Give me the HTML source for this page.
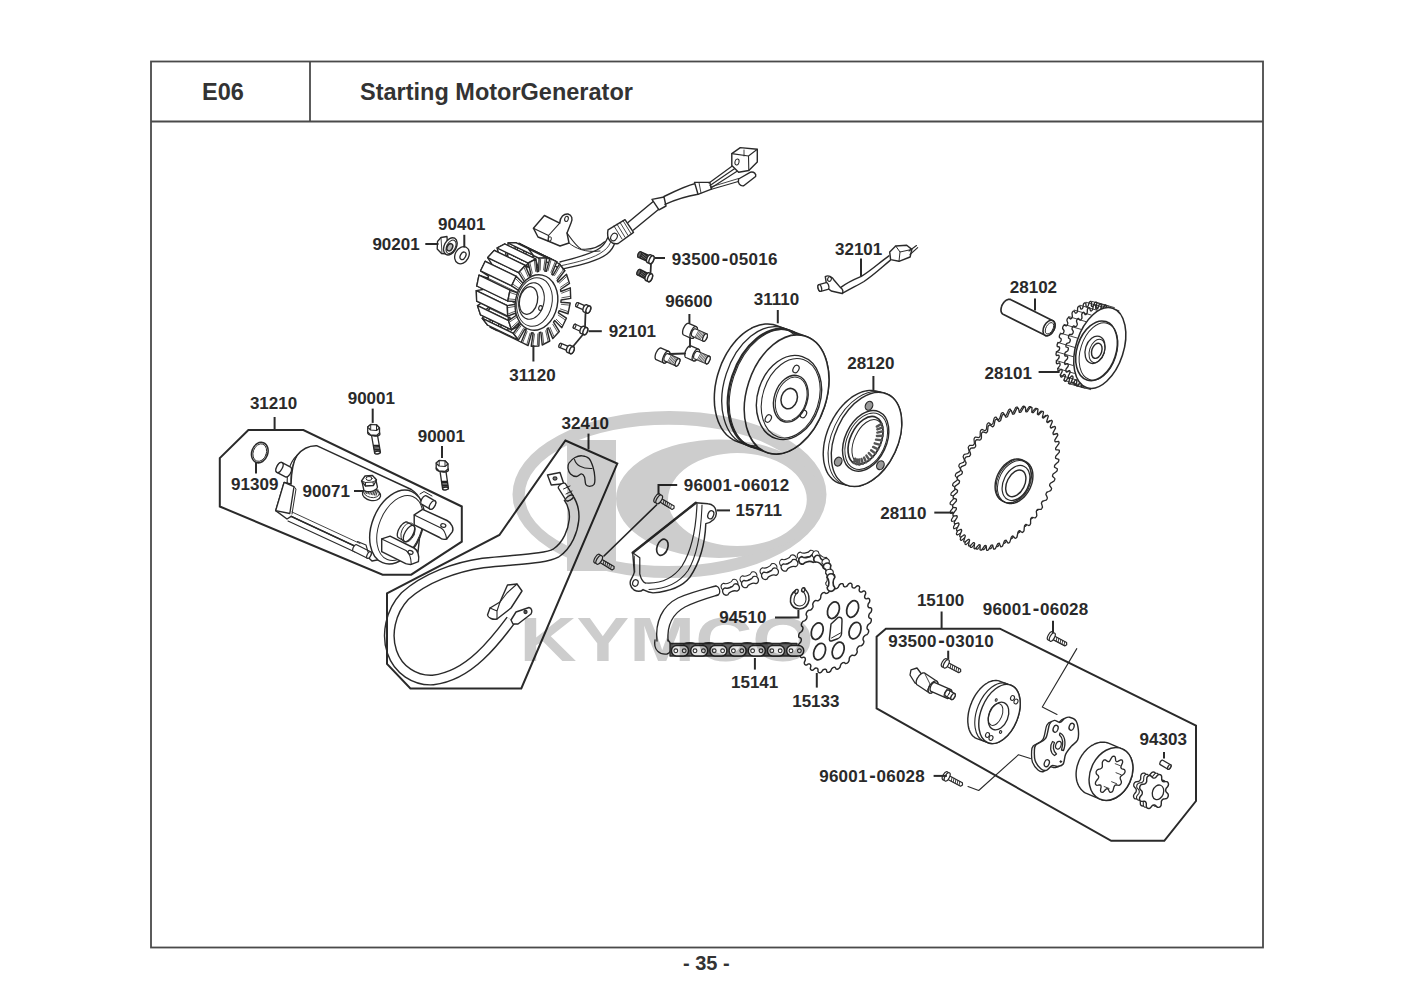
<!DOCTYPE html>
<html><head><meta charset="utf-8">
<style>
html,body{margin:0;padding:0;background:#fff;width:1415px;height:1000px;overflow:hidden}
svg{position:absolute;left:0;top:0}
text{font-family:"Liberation Sans",sans-serif;font-weight:bold}
</style></head><body>
<svg width="1415" height="1000" viewBox="0 0 1415 1000">
<rect x="0" y="0" width="1415" height="1000" fill="#fff"/>
<!-- frame -->
<g fill="none" stroke="#4a4a4a" stroke-width="1.8">
<rect x="151" y="61.5" width="1112" height="886"/>
<line x1="151" y1="121.5" x2="1263" y2="121.5"/>
<line x1="310" y1="61.5" x2="310" y2="121.5"/>
</g>
<text x="202" y="100.3" font-size="23.5" fill="#333">E06</text>
<text x="360" y="100" font-size="23.5" fill="#333">Starting MotorGenerator</text>
<text x="683" y="969.8" font-size="20" fill="#333">- 35 -</text>
<!-- parts -->
<!-- 10_stator.svg -->
<g stroke-linejoin="round" stroke-linecap="round">
<path d="M539.2,288 L537,298.8 L528.1,295.8 L527.4,297.8 L535.4,303.2 L530.8,312.7 L523.7,305.5 L522.5,307.1 L528.3,316.4 L521.8,323.6 L517.3,312.9 L515.9,314 L518.8,326 L511.2,330 L509.9,317.3 L508.3,317.7 L507.9,331 L500.2,331.3 L502.2,317.9 L500.7,317.6 L497.1,330.6 L490.2,327.2 L495.2,314.9 L494,313.9 L487.5,325 L482.3,318.3 L489.8,308.5 L488.9,306.9 L480.5,314.8 L477.5,305.6 L486.5,299.5 L486.2,297.5 L476.7,301.2 L476.3,290.6 L485.9,289 L486.1,286.8 L476.8,286 L479,275.2 L487.9,278.2 L488.6,276.2 L480.6,270.8 L485.2,261.3 L492.3,268.5 L493.5,266.9 L487.7,257.6 L494.2,250.4 L498.7,261.1 L500.1,260 L497.2,248 L504.8,244 L506.1,256.7 L507.7,256.3 L508.1,243 L515.8,242.7 L513.8,256.1 L515.3,256.4 L518.9,243.4 L525.8,246.8 L520.8,259.1 L522,260.1 L528.5,249 L533.7,255.7 L526.2,265.5 L527.1,267.1 L535.5,259.2 L538.5,268.4 L529.5,274.5 L529.8,276.5 L539.3,272.8 L539.7,283.4 L530.1,285 L529.9,287.2 Z" fill="#fff" stroke="#2a2a2a" stroke-width="1.43" />
<path d="M521.2,342.2 L490.2,327.2" fill="none" stroke="#2a2a2a" stroke-width="1.21" />
<path d="M526.2,329.9 L495.2,314.9" fill="none" stroke="#2a2a2a" stroke-width="0.88" />
<path d="M518.5,340 L487.5,325" fill="none" stroke="#2a2a2a" stroke-width="1.21" />
<path d="M513.3,333.3 L482.3,318.3" fill="none" stroke="#2a2a2a" stroke-width="1.21" />
<path d="M520.8,323.5 L489.8,308.5" fill="none" stroke="#2a2a2a" stroke-width="0.88" />
<path d="M511.5,329.8 L480.5,314.8" fill="none" stroke="#2a2a2a" stroke-width="1.21" />
<path d="M508.5,320.6 L477.5,305.6" fill="none" stroke="#2a2a2a" stroke-width="1.21" />
<path d="M517.5,314.5 L486.5,299.5" fill="none" stroke="#2a2a2a" stroke-width="0.88" />
<path d="M507.7,316.2 L476.7,301.2" fill="none" stroke="#2a2a2a" stroke-width="1.21" />
<path d="M507.3,305.6 L476.3,290.6" fill="none" stroke="#2a2a2a" stroke-width="1.21" />
<path d="M516.9,304 L485.9,289" fill="none" stroke="#2a2a2a" stroke-width="0.88" />
<path d="M507.8,301 L476.8,286" fill="none" stroke="#2a2a2a" stroke-width="1.21" />
<path d="M510,290.2 L479,275.2" fill="none" stroke="#2a2a2a" stroke-width="1.21" />
<path d="M518.9,293.2 L487.9,278.2" fill="none" stroke="#2a2a2a" stroke-width="0.88" />
<path d="M511.6,285.8 L480.6,270.8" fill="none" stroke="#2a2a2a" stroke-width="1.21" />
<path d="M516.2,276.3 L485.2,261.3" fill="none" stroke="#2a2a2a" stroke-width="1.21" />
<path d="M523.3,283.5 L492.3,268.5" fill="none" stroke="#2a2a2a" stroke-width="0.88" />
<path d="M518.7,272.6 L487.7,257.6" fill="none" stroke="#2a2a2a" stroke-width="1.21" />
<path d="M525.2,265.4 L494.2,250.4" fill="none" stroke="#2a2a2a" stroke-width="1.21" />
<path d="M529.7,276.1 L498.7,261.1" fill="none" stroke="#2a2a2a" stroke-width="0.88" />
<path d="M528.2,263 L497.2,248" fill="none" stroke="#2a2a2a" stroke-width="1.21" />
<path d="M535.8,259 L504.8,244" fill="none" stroke="#2a2a2a" stroke-width="1.21" />
<path d="M537.1,271.7 L506.1,256.7" fill="none" stroke="#2a2a2a" stroke-width="0.88" />
<path d="M539.1,258 L508.1,243" fill="none" stroke="#2a2a2a" stroke-width="1.21" />
<path d="M546.8,257.7 L515.8,242.7" fill="none" stroke="#2a2a2a" stroke-width="1.21" />
<path d="M544.8,271.1 L513.8,256.1" fill="none" stroke="#2a2a2a" stroke-width="0.88" />
<path d="M549.9,258.4 L518.9,243.4" fill="none" stroke="#2a2a2a" stroke-width="1.21" />
<path d="M556.8,261.8 L525.8,246.8" fill="none" stroke="#2a2a2a" stroke-width="1.21" />
<path d="M551.8,274.1 L520.8,259.1" fill="none" stroke="#2a2a2a" stroke-width="0.88" />
<path d="M559.5,264 L528.5,249" fill="none" stroke="#2a2a2a" stroke-width="1.21" />
<path d="M564.7,270.7 L533.7,255.7" fill="none" stroke="#2a2a2a" stroke-width="1.21" />
<path d="M557.2,280.5 L526.2,265.5" fill="none" stroke="#2a2a2a" stroke-width="0.88" />
<path d="M518.5,340 L513.3,333.3 L482.3,318.3 L487.5,325 Z" fill="#fff" stroke="#2a2a2a" stroke-width="1.32" />
<path d="M511.5,329.8 L508.5,320.6 L477.5,305.6 L480.5,314.8 Z" fill="#fff" stroke="#2a2a2a" stroke-width="1.32" />
<path d="M507.7,316.2 L507.3,305.6 L476.3,290.6 L476.7,301.2 Z" fill="#fff" stroke="#2a2a2a" stroke-width="1.32" />
<path d="M507.8,301 L510,290.2 L479,275.2 L476.8,286 Z" fill="#fff" stroke="#2a2a2a" stroke-width="1.32" />
<path d="M511.6,285.8 L516.2,276.3 L485.2,261.3 L480.6,270.8 Z" fill="#fff" stroke="#2a2a2a" stroke-width="1.32" />
<path d="M518.7,272.6 L525.2,265.4 L494.2,250.4 L487.7,257.6 Z" fill="#fff" stroke="#2a2a2a" stroke-width="1.32" />
<path d="M528.2,263 L535.8,259 L504.8,244 L497.2,248 Z" fill="#fff" stroke="#2a2a2a" stroke-width="1.32" />
<path d="M539.1,258 L546.8,257.7 L515.8,242.7 L508.1,243 Z" fill="#fff" stroke="#2a2a2a" stroke-width="1.32" />
<path d="M549.9,258.4 L556.8,261.8 L525.8,246.8 L518.9,243.4 Z" fill="#fff" stroke="#2a2a2a" stroke-width="1.32" />
<path d="M559.5,264 L564.7,270.7 L533.7,255.7 L528.5,249 Z" fill="#fff" stroke="#2a2a2a" stroke-width="1.32" />
<path d="M570.2,303 L568,313.8 L559.1,310.8 L558.4,312.8 L566.4,318.2 L561.8,327.7 L554.7,320.5 L553.5,322.1 L559.3,331.4 L552.8,338.6 L548.3,327.9 L546.9,329 L549.8,341 L542.2,345 L540.9,332.3 L539.3,332.7 L538.9,346 L531.2,346.3 L533.2,332.9 L531.7,332.6 L528.1,345.6 L521.2,342.2 L526.2,329.9 L525,328.9 L518.5,340 L513.3,333.3 L520.8,323.5 L519.9,321.9 L511.5,329.8 L508.5,320.6 L517.5,314.5 L517.2,312.5 L507.7,316.2 L507.3,305.6 L516.9,304 L517.1,301.8 L507.8,301 L510,290.2 L518.9,293.2 L519.6,291.2 L511.6,285.8 L516.2,276.3 L523.3,283.5 L524.5,281.9 L518.7,272.6 L525.2,265.4 L529.7,276.1 L531.1,275 L528.2,263 L535.8,259 L537.1,271.7 L538.7,271.3 L539.1,258 L546.8,257.7 L544.8,271.1 L546.3,271.4 L549.9,258.4 L556.8,261.8 L551.8,274.1 L553,275.1 L559.5,264 L564.7,270.7 L557.2,280.5 L558.1,282.1 L566.5,274.2 L569.5,283.4 L560.5,289.5 L560.8,291.5 L570.3,287.8 L570.7,298.4 L561.1,300 L560.9,302.2 Z" fill="#fff" stroke="#2a2a2a" stroke-width="1.43" />
<path d="M561.3,304.3 L569,305.1" fill="none" stroke="#2a2a2a" stroke-width="0.77" />
<path d="M560.3,308.9 L567.7,311.4" fill="none" stroke="#2a2a2a" stroke-width="0.77" />
<path d="M558.2,315.1 L564.8,319.6" fill="none" stroke="#2a2a2a" stroke-width="0.77" />
<path d="M556.2,319.2 L562.1,325.2" fill="none" stroke="#2a2a2a" stroke-width="0.77" />
<path d="M552.8,324.3 L557.5,332" fill="none" stroke="#2a2a2a" stroke-width="0.77" />
<path d="M550,327.4 L553.8,336.2" fill="none" stroke="#2a2a2a" stroke-width="0.77" />
<path d="M545.7,330.8 L548,340.8" fill="none" stroke="#2a2a2a" stroke-width="0.77" />
<path d="M542.4,332.6 L543.6,343.2" fill="none" stroke="#2a2a2a" stroke-width="0.77" />
<path d="M537.8,333.9 L537.4,344.9" fill="none" stroke="#2a2a2a" stroke-width="0.77" />
<path d="M534.5,334 L532.9,345.1" fill="none" stroke="#2a2a2a" stroke-width="0.77" />
<path d="M530.1,333.1 L527,343.8" fill="none" stroke="#2a2a2a" stroke-width="0.77" />
<path d="M527.1,331.6 L523,341.9" fill="none" stroke="#2a2a2a" stroke-width="0.77" />
<path d="M523.4,328.5 L518,337.7" fill="none" stroke="#2a2a2a" stroke-width="0.77" />
<path d="M521.2,325.6 L515,333.8" fill="none" stroke="#2a2a2a" stroke-width="0.77" />
<path d="M518.7,320.8 L511.6,327.3" fill="none" stroke="#2a2a2a" stroke-width="0.77" />
<path d="M517.4,316.8 L509.8,321.9" fill="none" stroke="#2a2a2a" stroke-width="0.77" />
<path d="M516.3,310.8 L508.5,313.8" fill="none" stroke="#2a2a2a" stroke-width="0.77" />
<path d="M516.2,306.2 L508.2,307.6" fill="none" stroke="#2a2a2a" stroke-width="0.77" />
<path d="M516.7,299.7 L509,298.9" fill="none" stroke="#2a2a2a" stroke-width="0.77" />
<path d="M517.7,295.1 L510.3,292.6" fill="none" stroke="#2a2a2a" stroke-width="0.77" />
<path d="M519.8,288.9 L513.2,284.4" fill="none" stroke="#2a2a2a" stroke-width="0.77" />
<path d="M521.8,284.8 L515.9,278.8" fill="none" stroke="#2a2a2a" stroke-width="0.77" />
<path d="M525.2,279.7 L520.5,272" fill="none" stroke="#2a2a2a" stroke-width="0.77" />
<path d="M528,276.6 L524.2,267.8" fill="none" stroke="#2a2a2a" stroke-width="0.77" />
<path d="M532.3,273.2 L530,263.2" fill="none" stroke="#2a2a2a" stroke-width="0.77" />
<path d="M535.6,271.4 L534.4,260.8" fill="none" stroke="#2a2a2a" stroke-width="0.77" />
<path d="M540.2,270.1 L540.6,259.1" fill="none" stroke="#2a2a2a" stroke-width="0.77" />
<path d="M543.5,270 L545.1,258.9" fill="none" stroke="#2a2a2a" stroke-width="0.77" />
<path d="M547.9,270.9 L551,260.2" fill="none" stroke="#2a2a2a" stroke-width="0.77" />
<path d="M550.9,272.4 L555,262.1" fill="none" stroke="#2a2a2a" stroke-width="0.77" />
<path d="M554.6,275.5 L560,266.3" fill="none" stroke="#2a2a2a" stroke-width="0.77" />
<path d="M556.8,278.4 L563,270.2" fill="none" stroke="#2a2a2a" stroke-width="0.77" />
<path d="M559.3,283.2 L566.4,276.7" fill="none" stroke="#2a2a2a" stroke-width="0.77" />
<path d="M560.6,287.2 L568.2,282.1" fill="none" stroke="#2a2a2a" stroke-width="0.77" />
<path d="M561.7,293.2 L569.5,290.2" fill="none" stroke="#2a2a2a" stroke-width="0.77" />
<path d="M561.8,297.8 L569.8,296.4" fill="none" stroke="#2a2a2a" stroke-width="0.77" />
<ellipse cx="536.5" cy="302.5" rx="21" ry="28" transform="rotate(12 536.5 302.5)" fill="#fff" stroke="#2a2a2a" stroke-width="1.43" />
<ellipse cx="534.5" cy="302" rx="17.5" ry="24.5" transform="rotate(12 534.5 302)" fill="none" stroke="#2a2a2a" stroke-width="0.99" />
<ellipse cx="531.5" cy="301" rx="12.5" ry="18.5" transform="rotate(12 531.5 301)" fill="none" stroke="#2a2a2a" stroke-width="1.10" />
<ellipse cx="528.5" cy="300.5" rx="9" ry="14" transform="rotate(12 528.5 300.5)" fill="none" stroke="#2a2a2a" stroke-width="1.32" />
<ellipse cx="540.5" cy="308" rx="1.8" ry="2.4" transform="rotate(12 540.5 308)" fill="none" stroke="#2a2a2a" stroke-width="1.10" />
</g>
<!-- 11_harness.svg -->
<g stroke-linejoin="round" stroke-linecap="round">
<path d="M560,262 C575,258 592,254 600,248 C604,245 606,242 608,237" fill="none" stroke="#2a2a2a" stroke-width="1.32" />
<path d="M563,269 C580,265 598,261 607,254 C612,250 614,246 615,242" fill="none" stroke="#2a2a2a" stroke-width="1.32" />
<path d="M562,265.5 C578,262 595,258 603.5,251 C608,248 610,244 611.5,240" fill="none" stroke="#2a2a2a" stroke-width="0.88" />
<path d="M533.4,228.2 L544.4,215.5 L559.7,223.1 C560,217 564,213.5 568,214 C572,215 573,219 571,223 L567,233 L569,243 L560,246 L548,241 L538,237 Z" fill="#fff" stroke="#2a2a2a" stroke-width="1.43" />
<path d="M533.4,228.2 L548.5,235.5 L559.7,223.1" fill="none" stroke="#2a2a2a" stroke-width="1.10" />
<path d="M548.5,235.5 L548,241" fill="none" stroke="#2a2a2a" stroke-width="1.10" />
<ellipse cx="566.5" cy="218.9" rx="1.8" ry="2.6" transform="rotate(15 566.5 218.9)" fill="none" stroke="#2a2a2a" stroke-width="1.10" />
<ellipse cx="549.8" cy="239" rx="1.5" ry="2.2" transform="rotate(15 549.8 239)" fill="none" stroke="#2a2a2a" stroke-width="0.99" />
<path d="M567,233 C572,240 576,246 581,249 C590,250 598,248 604.6,241.8" fill="none" stroke="#2a2a2a" stroke-width="1.21" />
<path d="M569,243 C575,248 585,253 600,251" fill="none" stroke="#2a2a2a" stroke-width="0.99" />
<path d="M608,229.9 L625,219.7 L633.5,232.4 L618.2,243.5 C612,245 606,240 608,229.9 Z" fill="#fff" stroke="#2a2a2a" stroke-width="1.43" />
<path d="M614.0,226.0 L622.0,239.0" fill="none" stroke="#2a2a2a" stroke-width="0.88" />
<path d="M617.0,224.2 L625.0,237.2" fill="none" stroke="#2a2a2a" stroke-width="0.88" />
<path d="M620.0,222.4 L628.0,235.4" fill="none" stroke="#2a2a2a" stroke-width="0.88" />
<path d="M623.0,220.6 L631.0,233.6" fill="none" stroke="#2a2a2a" stroke-width="0.88" />
<ellipse cx="614" cy="237" rx="3" ry="4" transform="rotate(30 614 237)" fill="none" stroke="#2a2a2a" stroke-width="1.10" />
<path d="M628,222.5 L653.8,201" fill="none" stroke="#2a2a2a" stroke-width="1.43" />
<path d="M633.5,230 L660.6,207.8" fill="none" stroke="#2a2a2a" stroke-width="1.43" />
<path d="M652,199.4 L664,197 L666,206 L659,209.8 Z" fill="#fff" stroke="#2a2a2a" stroke-width="1.43" />
<path d="M664,196.5 C675,191 685,186 696.2,183.2" fill="none" stroke="#2a2a2a" stroke-width="1.43" />
<path d="M665,204.4 C677,199 688,196 698,194.3" fill="none" stroke="#2a2a2a" stroke-width="1.43" />
<path d="M694.5,182.4 L709.8,182.4 L711.5,189.2 L698,194.3 Z" fill="#fff" stroke="#2a2a2a" stroke-width="1.43" />
<path d="M699,182.6 L701,193" fill="none" stroke="#2a2a2a" stroke-width="0.88" />
<path d="M709,183 L735,164" fill="none" stroke="#2a2a2a" stroke-width="1.21" />
<path d="M710,185.5 L737,167" fill="none" stroke="#2a2a2a" stroke-width="1.21" />
<path d="M711,188 L739,170" fill="none" stroke="#2a2a2a" stroke-width="1.21" />
<path d="M711.5,189.2 L740,181" fill="none" stroke="#2a2a2a" stroke-width="1.10" />
<path d="M710.5,187 L738.6,178.5" fill="none" stroke="#2a2a2a" stroke-width="0.88" />
<path d="M731.8,153.6 L740.3,147.6 L757.3,149.3 L757.3,162 L748.8,170.5 L738.6,172.2 L731.8,165.4 Z" fill="#fff" stroke="#2a2a2a" stroke-width="1.43" />
<path d="M731.8,153.6 L748.5,156 L757.3,149.3 M748.5,156 L748.8,170.5" fill="none" stroke="#2a2a2a" stroke-width="1.10" />
<path d="M744,150 L744,156" fill="none" stroke="#2a2a2a" stroke-width="0.88" />
<ellipse cx="737" cy="162" rx="2" ry="3" transform="rotate(15 737 162)" fill="none" stroke="#2a2a2a" stroke-width="0.99" />
<path d="M738.6,179 L750.5,172.2 C754,171.5 756.5,174 755.6,176.5 L743.7,185.8 C740,186.5 737.5,183 738.6,179 Z" fill="#fff" stroke="#2a2a2a" stroke-width="1.43" />
</g>
<!-- 20_flywheel.svg -->
<g stroke-linejoin="round" stroke-linecap="round">
<path d="M714.3,398.2 L714.4,394.4 L714.7,390.6 L715.1,386.7 L715.8,382.8 L716.6,378.9 L717.6,375 L718.8,371.2 L720.1,367.4 L721.5,363.7 L723.2,360.1 L724.9,356.6 L726.8,353.1 L728.9,349.9 L731,346.7 L733.3,343.8 L735.6,340.9 L738.1,338.3 L740.6,335.9 L743.2,333.6 L745.9,331.6 L748.6,329.8 L751.3,328.3 L754,326.9 L756.8,325.9 L759.6,325 L762.3,324.4 L765.1,324.1 L767.8,324 L770.4,324.2 L773,324.6 L775.5,325.3 L805.5,336.3 L808,337.2 L810.3,338.4 L812.5,339.8 L814.7,341.5 L816.7,343.3 L818.6,345.4 L820.3,347.7 L821.9,350.2 L823.4,352.9 L824.6,355.8 L825.8,358.9 L826.7,362 L827.5,365.4 L828.1,368.8 L828.6,372.4 L828.8,376.1 L828.9,379.8 L828.8,383.6 L828.5,387.4 L828.1,391.3 L827.4,395.2 L826.6,399.1 L825.6,403 L824.5,406.8 L823.1,410.6 L821.7,414.3 L820,417.9 L818.3,421.4 L816.4,424.9 L814.3,428.1 L812.2,431.3 L809.9,434.2 L807.6,437.1 L805.1,439.7 L802.6,442.1 L800,444.4 L797.3,446.4 L794.6,448.2 L791.9,449.7 L789.1,451.1 L786.4,452.1 L783.6,453 L780.9,453.6 L778.1,453.9 L775.4,454 L772.8,453.8 L770.2,453.4 L767.7,452.7 L737.7,441.7 L735.2,440.8 L732.9,439.6 L730.7,438.2 L728.5,436.5 L726.5,434.7 L724.6,432.6 L722.9,430.3 L721.3,427.8 L719.9,425.1 L718.5,422.2 L717.4,419.1 L716.5,416 L715.7,412.6 L715.1,409.2 L714.6,405.6 L714.4,401.9 Z" fill="#fff" stroke="#2a2a2a" stroke-width="1.54" />
<ellipse cx="764.1" cy="386.2" rx="39.8" ry="61.2" transform="rotate(18 764.1 386.2)" fill="none" stroke="#2a2a2a" stroke-width="1.32" />
<ellipse cx="770.1" cy="388.4" rx="39.8" ry="61.2" transform="rotate(18 770.1 388.4)" fill="none" stroke="#2a2a2a" stroke-width="2.20" />
<ellipse cx="771.6" cy="389" rx="39.8" ry="61.2" transform="rotate(18 771.6 389)" fill="none" stroke="#2a2a2a" stroke-width="1.10" />
<ellipse cx="786.6" cy="394.5" rx="39.8" ry="61.2" transform="rotate(18 786.6 394.5)" fill="#fff" stroke="#2a2a2a" stroke-width="1.54" />
<ellipse cx="789" cy="397.5" rx="31.3" ry="43" transform="rotate(18 789 397.5)" fill="none" stroke="#2a2a2a" stroke-width="1.43" />
<ellipse cx="790.7" cy="398.2" rx="28" ry="40.7" transform="rotate(18 790.7 398.2)" fill="none" stroke="#2a2a2a" stroke-width="1.10" />
<ellipse cx="790.8" cy="398.7" rx="16.5" ry="24" transform="rotate(18 790.8 398.7)" fill="none" stroke="#2a2a2a" stroke-width="1.43" />
<ellipse cx="791.2" cy="399" rx="15" ry="22.5" transform="rotate(18 791.2 399)" fill="none" stroke="#2a2a2a" stroke-width="0.99" />
<ellipse cx="789.2" cy="398.6" rx="8" ry="10.4" transform="rotate(18 789.2 398.6)" fill="none" stroke="#2a2a2a" stroke-width="1.54" />
<ellipse cx="796" cy="369" rx="2.8" ry="4" transform="rotate(28 796 369)" fill="none" stroke="#2a2a2a" stroke-width="1.21" />
<ellipse cx="768.3" cy="418.5" rx="2.8" ry="4" transform="rotate(28 768.3 418.5)" fill="none" stroke="#2a2a2a" stroke-width="1.21" />
<ellipse cx="803.5" cy="414" rx="2.8" ry="4" transform="rotate(28 803.5 414)" fill="none" stroke="#2a2a2a" stroke-width="1.21" />
</g>
<!-- 21_clutch.svg -->
<g stroke-linejoin="round" stroke-linecap="round">
<path d="M823.2,454.4 L823.3,451.5 L823.5,448.6 L823.8,445.5 L824.3,442.5 L825,439.4 L825.7,436.4 L826.7,433.3 L827.7,430.2 L828.9,427.2 L830.2,424.2 L831.7,421.3 L833.2,418.4 L834.9,415.7 L836.6,413 L838.5,410.4 L840.4,407.9 L842.5,405.6 L844.5,403.4 L846.7,401.4 L848.9,399.5 L851.1,397.7 L853.4,396.2 L855.7,394.8 L858,393.6 L860.3,392.6 L862.6,391.7 L864.9,391.1 L867.1,390.7 L869.3,390.4 L871.5,390.4 L873.6,390.6 L875.7,390.9 L883.7,392.9 L885.6,393.5 L887.5,394.3 L889.4,395.2 L891.1,396.4 L892.7,397.7 L894.1,399.2 L895.5,400.9 L896.8,402.8 L897.9,404.8 L898.9,406.9 L899.7,409.2 L900.4,411.6 L901,414.2 L901.4,416.8 L901.6,419.6 L901.8,422.4 L901.7,425.3 L901.5,428.2 L901.2,431.3 L900.7,434.3 L900,437.4 L899.3,440.4 L898.3,443.5 L897.3,446.6 L896.1,449.6 L894.8,452.6 L893.3,455.5 L891.8,458.4 L890.1,461.1 L888.4,463.8 L886.5,466.4 L884.6,468.9 L882.5,471.2 L880.5,473.4 L878.3,475.4 L876.1,477.3 L873.9,479.1 L871.6,480.6 L869.3,482 L867,483.2 L864.7,484.2 L862.4,485.1 L860.1,485.7 L857.9,486.1 L855.7,486.4 L853.5,486.4 L851.4,486.2 L849.3,485.9 L841.3,483.9 L839.4,483.3 L837.5,482.5 L835.6,481.6 L833.9,480.4 L832.3,479.1 L830.9,477.6 L829.5,475.9 L828.2,474.1 L827.1,472.1 L826.1,469.9 L825.3,467.6 L824.6,465.2 L824,462.6 L823.6,460 L823.4,457.2 Z" fill="#fff" stroke="#2a2a2a" stroke-width="1.43" />
<ellipse cx="863.3" cy="438.6" rx="31.2" ry="49.8" transform="rotate(25 863.3 438.6)" fill="none" stroke="#2a2a2a" stroke-width="0.99" />
<ellipse cx="866.5" cy="439.4" rx="31.2" ry="49.8" transform="rotate(25 866.5 439.4)" fill="#fff" stroke="#2a2a2a" stroke-width="1.43" />
<ellipse cx="865.7" cy="440.9" rx="20.7" ry="32" transform="rotate(25 865.7 440.9)" fill="none" stroke="#2a2a2a" stroke-width="1.43" />
<ellipse cx="866.2" cy="441.2" rx="19" ry="29.8" transform="rotate(25 866.2 441.2)" fill="none" stroke="#2a2a2a" stroke-width="0.99" />
<ellipse cx="865.5" cy="440.5" rx="15.2" ry="25.5" transform="rotate(25 865.5 440.5)" fill="none" stroke="#2a2a2a" stroke-width="1.65" />
<ellipse cx="867.5" cy="441.5" rx="13.2" ry="23.5" transform="rotate(25 867.5 441.5)" fill="none" stroke="#2a2a2a" stroke-width="0.99" />
<path d="M881.7,423.7 L876.8,426.6" fill="none" stroke="#555" stroke-width="2.42" />
<path d="M882.7,427.3 L877.3,429.4" fill="none" stroke="#555" stroke-width="2.42" />
<path d="M883,431.3 L877.3,432.6" fill="none" stroke="#555" stroke-width="2.42" />
<path d="M882.7,435.7 L876.9,436" fill="none" stroke="#555" stroke-width="2.42" />
<path d="M881.7,440.3 L876,439.6" fill="none" stroke="#555" stroke-width="2.42" />
<path d="M880.2,444.9 L874.7,443.3" fill="none" stroke="#555" stroke-width="2.42" />
<path d="M878.1,449.3 L873.1,446.9" fill="none" stroke="#555" stroke-width="2.42" />
<path d="M875.5,453.4 L871.1,450.2" fill="none" stroke="#555" stroke-width="2.42" />
<path d="M872.6,457 L868.8,453.1" fill="none" stroke="#555" stroke-width="2.42" />
<path d="M869.4,460 L866.4,455.6" fill="none" stroke="#555" stroke-width="2.42" />
<path d="M866.1,462.3 L864,457.6" fill="none" stroke="#555" stroke-width="2.42" />
<path d="M862.8,463.8 L861.5,458.9" fill="none" stroke="#555" stroke-width="2.42" />
<path d="M859.5,464.5 L859.2,459.5" fill="none" stroke="#555" stroke-width="2.42" />
<path d="M856.5,464.2 L857.1,459.5" fill="none" stroke="#555" stroke-width="2.42" />
<path d="M853.8,463.1 L855.2,458.7" fill="none" stroke="#555" stroke-width="2.42" />
<ellipse cx="869" cy="405.8" rx="3.6" ry="4.6" transform="rotate(25 869 405.8)" fill="#999" stroke="#2a2a2a" stroke-width="1.21" />
<ellipse cx="838.2" cy="461.6" rx="3.6" ry="4.6" transform="rotate(25 838.2 461.6)" fill="#999" stroke="#2a2a2a" stroke-width="1.21" />
<ellipse cx="880.4" cy="465.2" rx="3.6" ry="4.6" transform="rotate(25 880.4 465.2)" fill="#999" stroke="#2a2a2a" stroke-width="1.21" />
</g>
<!-- 22_sprocket28110.svg -->
<g stroke-linejoin="round" stroke-linecap="round">
<path d="M1043.4,500.4 L1042.7,501.5 L1040.8,501.8 L1039.1,502.1 L1038.3,503.1 L1037.8,504.3 L1038.3,506.2 L1038.8,508.2 L1038.2,509.5 L1037.4,510.4 L1035.7,510.5 L1034,510.4 L1033.1,511.3 L1032.6,512.4 L1032.8,514.6 L1033,516.8 L1032.4,518 L1031.5,518.8 L1029.9,518.5 L1028.3,518.1 L1027.4,518.8 L1026.8,519.9 L1026.8,522.2 L1026.7,524.6 L1026,525.7 L1025.1,526.4 L1023.6,525.8 L1022.1,525 L1021.3,525.6 L1020.6,526.6 L1020.3,529.1 L1020,531.5 L1019.2,532.5 L1018.2,533.1 L1016.9,532.1 L1015.7,531.1 L1014.8,531.6 L1014,532.5 L1013.5,534.9 L1012.9,537.5 L1012.1,538.4 L1011.1,538.8 L1010,537.5 L1009,536.2 L1008.1,536.5 L1007.3,537.3 L1006.5,539.8 L1005.7,542.3 L1004.8,543.1 L1003.9,543.3 L1003,541.8 L1002.2,540.1 L1001.3,540.3 L1000.5,541 L999.5,543.4 L998.4,545.9 L997.5,546.6 L996.6,546.6 L996,544.8 L995.4,543 L994.6,542.9 L993.7,543.5 L992.5,545.9 L991.3,548.3 L990.3,548.8 L989.5,548.7 L989.1,546.6 L988.7,544.6 L988,544.4 L987.1,544.8 L985.7,547.1 L984.3,549.3 L983.4,549.7 L982.6,549.4 L982.5,547.2 L982.4,544.9 L981.7,544.6 L980.9,544.8 L979.3,547 L977.7,549.1 L976.8,549.2 L976.2,548.8 L976.3,546.4 L976.4,544 L975.8,543.6 L975,543.6 L973.3,545.6 L971.6,547.5 L970.8,547.5 L970.2,546.9 L970.6,544.4 L971,541.9 L970.5,541.3 L969.7,541.2 L967.9,542.9 L966.1,544.6 L965.3,544.4 L964.9,543.6 L965.5,541.1 L966.1,538.6 L965.7,537.9 L965,537.6 L963.2,539 L961.3,540.4 L960.6,540.1 L960.2,539.2 L961.1,536.7 L962,534.2 L961.7,533.3 L961,532.9 L959.2,534 L957.3,535.1 L956.6,534.6 L956.4,533.6 L957.5,531.1 L958.6,528.7 L958.4,527.7 L957.9,527.2 L956,528 L954.1,528.8 L953.6,528.1 L953.5,527 L954.7,524.6 L956,522.3 L956,521.2 L955.5,520.5 L953.7,521 L951.9,521.4 L951.4,520.6 L951.5,519.5 L952.9,517.2 L954.4,515 L954.4,513.9 L954.1,513.1 L952.3,513.2 L950.6,513.3 L950.3,512.4 L950.4,511.2 L952,509.1 L953.6,507 L953.8,505.9 L953.6,505 L951.9,504.8 L950.3,504.5 L950.1,503.5 L950.4,502.2 L952.1,500.4 L953.8,498.6 L954.1,497.4 L954,496.4 L952.5,495.8 L951,495.2 L950.9,494.1 L951.3,492.9 L953.1,491.2 L954.9,489.7 L955.3,488.5 L955.3,487.4 L954,486.6 L952.6,485.6 L952.7,484.4 L953.2,483.2 L955.1,481.8 L956.9,480.6 L957.4,479.4 L957.6,478.3 L956.4,477.1 L955.3,475.9 L955.5,474.6 L956.1,473.4 L957.9,472.4 L959.8,471.4 L960.4,470.3 L960.7,469.2 L959.7,467.7 L958.8,466.2 L959.1,464.9 L959.8,463.8 L961.7,463 L963.5,462.4 L964.2,461.4 L964.5,460.2 L963.8,458.5 L963.1,456.7 L963.6,455.4 L964.3,454.3 L966.2,454 L967.9,453.7 L968.7,452.7 L969.2,451.5 L968.7,449.6 L968.2,447.6 L968.8,446.3 L969.6,445.4 L971.3,445.3 L973,445.4 L973.9,444.5 L974.4,443.4 L974.2,441.2 L974,439 L974.6,437.8 L975.5,437 L977.1,437.3 L978.7,437.7 L979.6,437 L980.2,435.9 L980.2,433.6 L980.3,431.2 L981,430.1 L981.9,429.4 L983.4,430 L984.9,430.8 L985.7,430.2 L986.4,429.2 L986.7,426.7 L987,424.3 L987.8,423.3 L988.8,422.7 L990.1,423.7 L991.3,424.7 L992.2,424.2 L993,423.3 L993.5,420.9 L994.1,418.3 L994.9,417.4 L995.9,417 L997,418.3 L998,419.6 L998.9,419.3 L999.7,418.5 L1000.5,416 L1001.3,413.5 L1002.2,412.7 L1003.1,412.5 L1004,414 L1004.8,415.7 L1005.7,415.5 L1006.5,414.8 L1007.5,412.4 L1008.6,409.9 L1009.5,409.2 L1010.4,409.2 L1011,411 L1011.6,412.8 L1012.4,412.9 L1013.3,412.3 L1014.5,409.9 L1015.7,407.5 L1016.7,407 L1017.5,407.1 L1017.9,409.2 L1018.3,411.2 L1019,411.4 L1019.9,411 L1021.3,408.7 L1022.7,406.5 L1023.6,406.1 L1024.4,406.4 L1024.5,408.6 L1024.6,410.9 L1025.3,411.2 L1026.1,411 L1027.7,408.8 L1029.3,406.7 L1030.2,406.6 L1030.8,407 L1030.7,409.4 L1030.6,411.8 L1031.2,412.2 L1032,412.2 L1033.7,410.2 L1035.4,408.3 L1036.2,408.3 L1036.8,408.9 L1036.4,411.4 L1036,413.9 L1036.5,414.5 L1037.3,414.6 L1039.1,412.9 L1040.9,411.2 L1041.7,411.4 L1042.1,412.2 L1041.5,414.7 L1040.9,417.2 L1041.3,417.9 L1042,418.2 L1043.8,416.8 L1045.7,415.4 L1046.4,415.7 L1046.8,416.6 L1045.9,419.1 L1045,421.6 L1045.3,422.5 L1046,422.9 L1047.8,421.8 L1049.7,420.7 L1050.4,421.2 L1050.6,422.2 L1049.5,424.7 L1048.4,427.1 L1048.6,428.1 L1049.1,428.6 L1051,427.8 L1052.9,427 L1053.4,427.7 L1053.5,428.8 L1052.3,431.2 L1051,433.5 L1051,434.6 L1051.5,435.3 L1053.3,434.8 L1055.1,434.4 L1055.6,435.2 L1055.5,436.3 L1054.1,438.6 L1052.6,440.8 L1052.6,441.9 L1052.9,442.7 L1054.7,442.6 L1056.4,442.5 L1056.7,443.4 L1056.6,444.6 L1055,446.7 L1053.4,448.8 L1053.2,449.9 L1053.4,450.8 L1055.1,451 L1056.7,451.3 L1056.9,452.3 L1056.6,453.6 L1054.9,455.4 L1053.2,457.2 L1052.9,458.4 L1053,459.4 L1054.5,460 L1056,460.6 L1056.1,461.7 L1055.7,462.9 L1053.9,464.6 L1052.1,466.1 L1051.7,467.3 L1051.7,468.4 L1053,469.2 L1054.4,470.2 L1054.3,471.4 L1053.8,472.6 L1051.9,474 L1050.1,475.2 L1049.6,476.4 L1049.4,477.5 L1050.6,478.7 L1051.7,479.9 L1051.5,481.2 L1050.9,482.4 L1049.1,483.4 L1047.2,484.4 L1046.6,485.5 L1046.3,486.6 L1047.3,488.1 L1048.2,489.6 L1047.9,490.9 L1047.2,492 L1045.3,492.8 L1043.5,493.4 L1042.8,494.4 L1042.5,495.6 L1043.2,497.3 L1043.9,499.1 L1043.4,500.4 Z" fill="#fff" stroke="#2a2a2a" stroke-width="1.21" />
<path d="M1047,499.1 L1046.2,500.2 L1044.4,500.7 L1042.6,501.1 L1041.9,502 L1041.4,503.2 L1042,505.1 L1042.5,507.1 L1041.9,508.3 L1041.1,509.3 L1039.4,509.4 L1037.6,509.5 L1036.8,510.3 L1036.3,511.5 L1036.6,513.6 L1036.8,515.8 L1036.2,516.9 L1035.3,517.8 L1033.7,517.6 L1032.1,517.3 L1031.2,518 L1030.6,519.1 L1030.6,521.4 L1030.6,523.7 L1029.9,524.9 L1029,525.6 L1027.5,525 L1026,524.4 L1025.2,525 L1024.5,526 L1024.2,528.4 L1024,530.9 L1023.2,531.9 L1022.3,532.5 L1020.9,531.6 L1019.6,530.6 L1018.7,531.1 L1018,532.1 L1017.5,534.5 L1017,537 L1016.1,538 L1015.2,538.4 L1014.1,537.2 L1012.9,535.9 L1012.1,536.3 L1011.3,537.1 L1010.6,539.6 L1009.8,542.1 L1008.9,542.9 L1008,543.2 L1007,541.7 L1006.2,540.2 L1005.3,540.3 L1004.4,541 L1003.5,543.5 L1002.5,546 L1001.6,546.7 L1000.7,546.8 L1000,545 L999.4,543.2 L998.5,543.3 L997.7,543.8 L996.5,546.3 L995.3,548.7 L994.4,549.2 L993.6,549.1 L993.1,547.1 L992.7,545.1 L991.9,545 L991,545.4 L989.7,547.7 L988.3,550 L987.4,550.4 L986.6,550.2 L986.4,548 L986.2,545.8 L985.6,545.5 L984.7,545.7 L983.2,547.9 L981.7,550 L980.7,550.2 L980,549.8 L980.1,547.5 L980.2,545.1 L979.6,544.7 L978.7,544.8 L977.1,546.8 L975.4,548.7 L974.6,548.8 L974,548.2 L974.3,545.7 L974.6,543.3 L974.1,542.7 L973.3,542.6 L971.6,544.4 L969.8,546.1 L969,546 L968.5,545.3 L969,542.7 L969.6,540.2 L969.2,539.5 L968.5,539.3 L966.6,540.8 L964.8,542.2 L964.1,541.9 L963.7,541.1 L964.5,538.6 L965.3,536 L965,535.2 L964.3,534.8 L962.5,536 L960.6,537.2 L959.9,536.7 L959.7,535.7 L960.7,533.2 L961.7,530.8 L961.5,529.8 L961,529.3 L959.1,530.2 L957.2,531 L956.7,530.4 L956.5,529.3 L957.8,526.9 L959,524.5 L958.9,523.5 L958.5,522.8 L956.6,523.4 L954.8,523.9 L954.3,523.1 L954.3,522 L955.7,519.7 L957.1,517.5 L957.2,516.4 L956.8,515.6 L955,515.8 L953.3,516 L952.9,515 L953.1,513.8 L954.6,511.7 L956.2,509.6 L956.4,508.5 L956.1,507.6 L954.4,507.5 L952.8,507.3 L952.6,506.3 L952.8,505 L954.5,503.1 L956.2,501.3 L956.5,500.1 L956.3,499.1 L954.8,498.6 L953.2,498.1 L953.2,497 L953.5,495.7 L955.3,494.1 L957.1,492.4 L957.5,491.3 L957.5,490.2 L956.1,489.4 L954.7,488.6 L954.7,487.4 L955.2,486.1 L957.1,484.7 L958.9,483.4 L959.4,482.2 L959.5,481.1 L958.3,480 L957.1,478.8 L957.3,477.6 L957.9,476.4 L959.7,475.3 L961.6,474.2 L962.2,473.1 L962.4,471.9 L961.4,470.6 L960.4,469.1 L960.7,467.8 L961.4,466.7 L963.3,465.9 L965.1,465.2 L965.8,464.1 L966.1,462.9 L965.3,461.3 L964.6,459.5 L965,458.3 L965.8,457.2 L967.6,456.7 L969.4,456.3 L970.1,455.4 L970.6,454.2 L970,452.3 L969.5,450.3 L970.1,449.1 L970.9,448.1 L972.6,448 L974.4,447.9 L975.2,447.1 L975.7,445.9 L975.4,443.8 L975.2,441.6 L975.8,440.5 L976.7,439.6 L978.3,439.8 L979.9,440.1 L980.8,439.4 L981.4,438.3 L981.4,436 L981.4,433.7 L982.1,432.5 L983,431.8 L984.5,432.4 L986,433 L986.8,432.4 L987.5,431.4 L987.8,429 L988,426.5 L988.8,425.5 L989.7,424.9 L991.1,425.8 L992.4,426.8 L993.3,426.3 L994,425.3 L994.5,422.9 L995,420.4 L995.9,419.4 L996.8,419 L997.9,420.2 L999.1,421.5 L999.9,421.1 L1000.7,420.3 L1001.4,417.8 L1002.2,415.3 L1003.1,414.5 L1004,414.2 L1005,415.7 L1005.8,417.2 L1006.7,417.1 L1007.6,416.4 L1008.5,413.9 L1009.5,411.4 L1010.4,410.7 L1011.3,410.6 L1012,412.4 L1012.6,414.2 L1013.5,414.1 L1014.3,413.6 L1015.5,411.1 L1016.7,408.7 L1017.6,408.2 L1018.4,408.3 L1018.9,410.3 L1019.3,412.3 L1020.1,412.4 L1021,412 L1022.3,409.7 L1023.7,407.4 L1024.6,407 L1025.4,407.2 L1025.6,409.4 L1025.8,411.6 L1026.4,411.9 L1027.3,411.7 L1028.8,409.5 L1030.3,407.4 L1031.3,407.2 L1032,407.6 L1031.9,409.9 L1031.8,412.3 L1032.4,412.7 L1033.3,412.6 L1034.9,410.6 L1036.6,408.7 L1037.4,408.6 L1038,409.2 L1037.7,411.7 L1037.4,414.1 L1037.9,414.7 L1038.7,414.8 L1040.4,413 L1042.2,411.3 L1043,411.4 L1043.5,412.1 L1043,414.7 L1042.4,417.2 L1042.8,417.9 L1043.5,418.1 L1045.4,416.6 L1047.2,415.2 L1047.9,415.5 L1048.3,416.3 L1047.5,418.8 L1046.7,421.4 L1047,422.2 L1047.7,422.6 L1049.5,421.4 L1051.4,420.2 L1052.1,420.7 L1052.3,421.7 L1051.3,424.2 L1050.3,426.6 L1050.5,427.6 L1051,428.1 L1052.9,427.2 L1054.8,426.4 L1055.3,427 L1055.5,428.1 L1054.2,430.5 L1053,432.9 L1053.1,433.9 L1053.5,434.6 L1055.4,434 L1057.2,433.5 L1057.7,434.3 L1057.7,435.4 L1056.3,437.7 L1054.9,439.9 L1054.8,441 L1055.2,441.8 L1057,441.6 L1058.7,441.4 L1059.1,442.4 L1058.9,443.6 L1057.4,445.7 L1055.8,447.8 L1055.6,448.9 L1055.9,449.8 L1057.6,449.9 L1059.2,450.1 L1059.4,451.1 L1059.2,452.4 L1057.5,454.3 L1055.8,456.1 L1055.5,457.3 L1055.7,458.3 L1057.2,458.8 L1058.8,459.3 L1058.8,460.4 L1058.5,461.7 L1056.7,463.3 L1054.9,465 L1054.5,466.1 L1054.5,467.2 L1055.9,468 L1057.3,468.8 L1057.3,470 L1056.8,471.3 L1054.9,472.7 L1053.1,474 L1052.6,475.2 L1052.5,476.3 L1053.7,477.4 L1054.9,478.6 L1054.7,479.8 L1054.1,481 L1052.3,482.1 L1050.4,483.2 L1049.8,484.3 L1049.6,485.5 L1050.6,486.8 L1051.6,488.3 L1051.3,489.6 L1050.6,490.7 L1048.7,491.5 L1046.9,492.2 L1046.2,493.3 L1045.9,494.5 L1046.7,496.1 L1047.4,497.9 L1047,499.1 Z" fill="#fff" stroke="#2a2a2a" stroke-width="1.32" />
<path d="M995.1,486 L995.2,484.6 L995.3,483.2 L995.5,481.8 L995.8,480.4 L996.2,479 L996.6,477.6 L997.1,476.2 L997.7,474.8 L998.4,473.4 L999.1,472.1 L999.8,470.9 L1000.6,469.6 L1001.5,468.4 L1002.4,467.3 L1003.3,466.2 L1004.3,465.1 L1005.3,464.2 L1006.4,463.3 L1007.5,462.5 L1008.6,461.8 L1009.7,461.1 L1010.8,460.5 L1012,460 L1013.1,459.6 L1014.2,459.3 L1015.4,459.1 L1016.5,458.9 L1017.6,458.9 L1018.7,459 L1019.7,459.1 L1020.7,459.4 L1021.7,459.7 L1022.7,460.1 L1025.7,461.6 L1026.6,462.1 L1027.4,462.7 L1028.2,463.4 L1029,464.1 L1029.7,464.9 L1030.3,465.9 L1030.9,466.8 L1031.4,467.9 L1031.8,468.9 L1032.2,470.1 L1032.5,471.3 L1032.7,472.6 L1032.8,473.9 L1032.9,475.2 L1032.9,476.5 L1032.8,477.9 L1032.7,479.3 L1032.5,480.7 L1032.2,482.1 L1031.8,483.5 L1031.3,484.9 L1030.8,486.3 L1030.3,487.7 L1029.6,489.1 L1028.9,490.4 L1028.2,491.6 L1027.4,492.9 L1026.5,494.1 L1025.6,495.2 L1024.7,496.3 L1023.7,497.4 L1022.7,498.3 L1021.6,499.2 L1020.5,500 L1019.4,500.8 L1018.3,501.4 L1017.2,502 L1016,502.5 L1014.9,502.9 L1013.8,503.2 L1012.6,503.4 L1011.5,503.6 L1010.4,503.6 L1009.3,503.5 L1008.3,503.4 L1007.3,503.1 L1006.3,502.8 L1005.3,502.4 L1002.3,500.9 L1001.4,500.4 L1000.6,499.8 L999.8,499.1 L999,498.4 L998.3,497.6 L997.7,496.6 L997.1,495.7 L996.6,494.6 L996.2,493.6 L995.8,492.4 L995.5,491.2 L995.3,489.9 L995.2,488.6 L995.1,487.3 Z" fill="#fff" stroke="#2a2a2a" stroke-width="1.43" />
<ellipse cx="1013.5" cy="481.2" rx="15.8" ry="22.8" transform="rotate(26.5 1013.5 481.2)" fill="none" stroke="#2a2a2a" stroke-width="0.99" />
<ellipse cx="1014.5" cy="481.8" rx="15.5" ry="22.4" transform="rotate(26.5 1014.5 481.8)" fill="none" stroke="#2a2a2a" stroke-width="0.99" />
<ellipse cx="1016" cy="483" rx="12.5" ry="18.5" transform="rotate(26.5 1016 483)" fill="#fff" stroke="#2a2a2a" stroke-width="1.21" />
<ellipse cx="1015.8" cy="483.4" rx="8.8" ry="14.2" transform="rotate(26.5 1015.8 483.4)" fill="none" stroke="#2a2a2a" stroke-width="1.43" />
</g>
<!-- 23_gear28101.svg -->
<g stroke-linejoin="round" stroke-linecap="round">
<path d="M1106.1,350.6 L1105.7,351.5 L1105.1,352.2 L1102.9,352.3 L1102.3,352.9 L1101.9,353.6 L1101.6,354.5 L1101.6,355.5 L1103,357.5 L1102.9,358.6 L1102.6,359.5 L1102.1,360.3 L1101.4,360.9 L1099.4,360.1 L1098.8,360.5 L1098.3,361.2 L1098,362 L1097.8,363 L1098.7,365.6 L1098.5,366.7 L1098,367.6 L1097.5,368.2 L1096.8,368.6 L1095.1,367 L1094.5,367.3 L1093.9,367.8 L1093.5,368.5 L1093.2,369.5 L1093.6,372.6 L1093.3,373.7 L1092.7,374.4 L1092.1,374.9 L1091.4,375 L1090.2,372.8 L1089.6,372.8 L1089,373.2 L1088.5,373.7 L1088.1,374.7 L1088,378.1 L1087.5,379.1 L1086.9,379.7 L1086.3,380 L1085.7,379.9 L1084.9,377.1 L1084.3,376.8 L1083.8,377 L1083.3,377.5 L1082.7,378.3 L1082.2,381.9 L1081.5,382.7 L1080.9,383.1 L1080.3,383.2 L1079.8,382.9 L1079.5,379.6 L1079,379.2 L1078.5,379.2 L1078,379.4 L1077.4,380.1 L1076.3,383.7 L1075.6,384.4 L1075,384.6 L1074.5,384.4 L1074,383.8 L1074.3,380.3 L1073.9,379.7 L1073.5,379.5 L1073,379.6 L1072.3,380.1 L1070.8,383.5 L1070.1,383.9 L1069.5,383.9 L1069,383.6 L1068.7,382.8 L1069.5,379.2 L1069.3,378.4 L1068.9,378 L1068.4,377.9 L1067.7,378.2 L1065.9,381.2 L1065.2,381.4 L1064.7,381.2 L1064.3,380.7 L1064.1,379.7 L1065.4,376.2 L1065.3,375.3 L1065,374.8 L1064.6,374.5 L1063.9,374.5 L1061.8,377 L1061.1,377 L1060.7,376.6 L1060.5,375.9 L1060.5,374.8 L1062.1,371.6 L1062.2,370.6 L1062,369.9 L1061.7,369.5 L1061.1,369.3 L1058.8,371.1 L1058.2,370.8 L1057.9,370.3 L1057.8,369.4 L1057.9,368.4 L1059.9,365.5 L1060.1,364.5 L1060,363.7 L1059.8,363.1 L1059.3,362.8 L1057,363.8 L1056.5,363.3 L1056.3,362.6 L1056.3,361.7 L1056.6,360.6 L1058.8,358.3 L1059.1,357.3 L1059.2,356.5 L1059.1,355.8 L1058.7,355.2 L1056.5,355.5 L1056.1,354.8 L1056,353.9 L1056.2,353 L1056.6,351.9 L1058.9,350.4 L1059.4,349.4 L1059.6,348.6 L1059.6,347.8 L1059.3,347 L1057.3,346.5 L1057.1,345.6 L1057.1,344.7 L1057.4,343.8 L1058,342.9 L1060.3,342 L1060.8,341.2 L1061.1,340.4 L1061.2,339.6 L1061.1,338.7 L1059.4,337.4 L1059.3,336.4 L1059.5,335.4 L1059.9,334.5 L1060.5,333.8 L1062.7,333.7 L1063.3,333.1 L1063.7,332.4 L1064,331.5 L1064,330.5 L1062.6,328.5 L1062.7,327.4 L1063,326.5 L1063.5,325.7 L1064.2,325.1 L1066.2,325.9 L1066.8,325.5 L1067.3,324.8 L1067.6,324 L1067.8,323 L1066.9,320.4 L1067.1,319.3 L1067.6,318.4 L1068.1,317.8 L1068.8,317.4 L1070.5,319 L1071.1,318.7 L1071.7,318.2 L1072.1,317.5 L1072.4,316.5 L1072,313.4 L1072.3,312.3 L1072.9,311.6 L1073.5,311.1 L1074.2,311 L1075.4,313.2 L1076,313.2 L1076.6,312.8 L1077.1,312.3 L1077.5,311.3 L1077.6,307.9 L1078.1,306.9 L1078.7,306.3 L1079.3,306 L1079.9,306.1 L1080.7,308.9 L1081.3,309.2 L1081.8,309 L1082.3,308.5 L1082.9,307.7 L1083.4,304.1 L1084.1,303.3 L1084.7,302.9 L1085.3,302.8 L1085.8,303.1 L1086.1,306.4 L1086.6,306.8 L1087.1,306.8 L1087.6,306.6 L1088.2,305.9 L1089.3,302.3 L1090,301.6 L1090.6,301.4 L1091.1,301.6 L1091.6,302.2 L1091.3,305.7 L1091.7,306.3 L1092.1,306.5 L1092.6,306.4 L1093.3,305.9 L1094.8,302.5 L1095.5,302.1 L1096.1,302.1 L1096.6,302.4 L1096.9,303.2 L1096.1,306.8 L1096.3,307.6 L1096.7,308 L1097.2,308.1 L1097.9,307.8 L1099.7,304.8 L1100.4,304.6 L1100.9,304.8 L1101.3,305.3 L1101.5,306.3 L1100.2,309.8 L1100.3,310.7 L1100.6,311.2 L1101,311.5 L1101.7,311.5 L1103.8,309 L1104.5,309 L1104.9,309.4 L1105.1,310.1 L1105.1,311.2 L1103.5,314.4 L1103.4,315.4 L1103.6,316.1 L1103.9,316.5 L1104.5,316.7 L1106.8,314.9 L1107.4,315.2 L1107.7,315.7 L1107.8,316.6 L1107.7,317.6 L1105.7,320.5 L1105.5,321.5 L1105.6,322.3 L1105.8,322.9 L1106.3,323.2 L1108.6,322.2 L1109.1,322.7 L1109.3,323.4 L1109.3,324.3 L1109,325.4 L1106.8,327.7 L1106.5,328.7 L1106.4,329.5 L1106.5,330.2 L1106.9,330.8 L1109.1,330.5 L1109.5,331.2 L1109.6,332.1 L1109.4,333 L1109,334.1 L1106.7,335.6 L1106.2,336.6 L1106,337.4 L1106,338.2 L1106.3,339 L1108.3,339.5 L1108.5,340.4 L1108.5,341.3 L1108.2,342.2 L1107.6,343.1 L1105.3,344 L1104.8,344.8 L1104.5,345.6 L1104.4,346.4 L1104.5,347.3 L1106.2,348.6 L1106.3,349.6 L1106.1,350.6 Z" fill="#fff" stroke="#2a2a2a" stroke-width="1.32" />
<path d="M1113.9,355.1 L1113.5,356 L1112.8,356.7 L1110.7,356.5 L1110.1,357.2 L1109.6,357.9 L1109.4,358.7 L1109.3,359.7 L1110.6,361.9 L1110.5,363 L1110.1,363.9 L1109.6,364.6 L1108.9,365.2 L1107,364.2 L1106.4,364.6 L1105.9,365.2 L1105.5,366 L1105.3,367 L1106.1,369.8 L1105.9,370.9 L1105.4,371.7 L1104.8,372.3 L1104.1,372.6 L1102.6,370.9 L1101.9,371.1 L1101.4,371.6 L1100.9,372.3 L1100.6,373.3 L1100.9,376.5 L1100.5,377.5 L1100,378.2 L1099.4,378.7 L1098.7,378.8 L1097.5,376.4 L1096.9,376.3 L1096.4,376.7 L1095.9,377.2 L1095.4,378.1 L1095.2,381.6 L1094.7,382.6 L1094.1,383.1 L1093.5,383.4 L1092.9,383.2 L1092.2,380.3 L1091.7,380 L1091.1,380.1 L1090.6,380.6 L1090,381.4 L1089.3,385 L1088.7,385.8 L1088.1,386.1 L1087.5,386.2 L1087,385.8 L1086.8,382.4 L1086.4,382 L1085.9,381.9 L1085.3,382.1 L1084.7,382.8 L1083.5,386.3 L1082.9,386.9 L1082.3,387.1 L1081.7,386.9 L1081.3,386.3 L1081.7,382.7 L1081.3,382.1 L1080.9,381.8 L1080.4,381.9 L1079.7,382.3 L1078.1,385.6 L1077.4,386 L1076.9,386 L1076.4,385.6 L1076.1,384.8 L1077,381.2 L1076.8,380.4 L1076.4,379.9 L1076,379.8 L1075.3,380 L1073.4,382.9 L1072.7,383.1 L1072.2,382.8 L1071.9,382.3 L1071.7,381.3 L1073,377.8 L1073,376.9 L1072.7,376.3 L1072.3,376 L1071.7,376 L1069.5,378.3 L1068.9,378.2 L1068.5,377.8 L1068.3,377.1 L1068.3,376 L1070,372.8 L1070.1,371.8 L1070,371.2 L1069.6,370.7 L1069.1,370.5 L1066.8,372.1 L1066.2,371.8 L1065.9,371.1 L1065.8,370.3 L1066,369.2 L1068,366.5 L1068.3,365.5 L1068.2,364.7 L1068,364.1 L1067.6,363.6 L1065.2,364.5 L1064.8,364 L1064.6,363.2 L1064.7,362.3 L1065,361.2 L1067.2,359.1 L1067.6,358.1 L1067.7,357.3 L1067.6,356.6 L1067.3,355.9 L1065,356 L1064.7,355.3 L1064.7,354.4 L1064.8,353.5 L1065.3,352.4 L1067.6,351 L1068.1,350.1 L1068.3,349.3 L1068.4,348.5 L1068.1,347.7 L1066.1,347 L1065.9,346.1 L1066,345.1 L1066.3,344.2 L1066.9,343.3 L1069.2,342.7 L1069.8,341.9 L1070.1,341.1 L1070.3,340.3 L1070.2,339.3 L1068.5,337.9 L1068.5,336.8 L1068.7,335.9 L1069.1,335 L1069.8,334.3 L1071.9,334.5 L1072.5,333.8 L1073,333.1 L1073.2,332.3 L1073.3,331.3 L1072,329.1 L1072.1,328 L1072.5,327.1 L1073,326.4 L1073.7,325.8 L1075.6,326.8 L1076.2,326.4 L1076.7,325.8 L1077.1,325 L1077.3,324 L1076.5,321.2 L1076.7,320.1 L1077.2,319.3 L1077.8,318.7 L1078.5,318.4 L1080,320.1 L1080.7,319.9 L1081.2,319.4 L1081.7,318.7 L1082,317.7 L1081.7,314.5 L1082.1,313.5 L1082.6,312.8 L1083.2,312.3 L1083.9,312.2 L1085.1,314.6 L1085.7,314.7 L1086.2,314.3 L1086.7,313.8 L1087.2,312.9 L1087.4,309.4 L1087.9,308.4 L1088.5,307.9 L1089.1,307.6 L1089.7,307.8 L1090.4,310.7 L1090.9,311 L1091.5,310.9 L1092,310.4 L1092.6,309.6 L1093.3,306 L1093.9,305.2 L1094.5,304.9 L1095.1,304.8 L1095.6,305.2 L1095.8,308.6 L1096.2,309 L1096.7,309.1 L1097.3,308.9 L1097.9,308.2 L1099.1,304.7 L1099.7,304.1 L1100.3,303.9 L1100.9,304.1 L1101.3,304.7 L1100.9,308.3 L1101.3,308.9 L1101.7,309.2 L1102.2,309.1 L1102.9,308.7 L1104.5,305.4 L1105.2,305 L1105.7,305 L1106.2,305.4 L1106.5,306.2 L1105.6,309.8 L1105.8,310.6 L1106.2,311.1 L1106.6,311.2 L1107.3,311 L1109.2,308.1 L1109.9,307.9 L1110.4,308.2 L1110.7,308.7 L1110.9,309.7 L1109.6,313.2 L1109.6,314.1 L1109.9,314.7 L1110.3,315 L1110.9,315 L1113.1,312.7 L1113.7,312.8 L1114.1,313.2 L1114.3,313.9 L1114.3,315 L1112.6,318.2 L1112.5,319.2 L1112.6,319.8 L1113,320.3 L1113.5,320.5 L1115.8,318.9 L1116.4,319.2 L1116.7,319.9 L1116.8,320.7 L1116.6,321.8 L1114.6,324.5 L1114.3,325.5 L1114.4,326.3 L1114.6,326.9 L1115,327.4 L1117.4,326.5 L1117.8,327 L1118,327.8 L1117.9,328.7 L1117.6,329.8 L1115.4,331.9 L1115,332.9 L1114.9,333.7 L1115,334.4 L1115.3,335.1 L1117.6,335 L1117.9,335.7 L1117.9,336.6 L1117.8,337.5 L1117.3,338.6 L1115,340 L1114.5,340.9 L1114.3,341.7 L1114.2,342.5 L1114.5,343.3 L1116.5,344 L1116.7,344.9 L1116.6,345.9 L1116.3,346.8 L1115.7,347.7 L1113.4,348.3 L1112.8,349.1 L1112.5,349.9 L1112.3,350.7 L1112.4,351.7 L1114.1,353.1 L1114.1,354.2 L1113.9,355.1 Z" fill="#fff" stroke="#2a2a2a" stroke-width="1.32" />
<path d="M1073.6,384.6 L1090.6,389.6" fill="none" stroke="#2a2a2a" stroke-width="0.88" />
<path d="M1068.2,383.4 L1085.2,388.4" fill="none" stroke="#2a2a2a" stroke-width="0.88" />
<path d="M1063.6,380.2 L1080.6,385.2" fill="none" stroke="#2a2a2a" stroke-width="0.88" />
<path d="M1059.9,375.1 L1076.9,380.1" fill="none" stroke="#2a2a2a" stroke-width="0.88" />
<path d="M1057.4,368.4 L1074.4,373.4" fill="none" stroke="#2a2a2a" stroke-width="0.88" />
<path d="M1056.1,360.5 L1073.1,365.5" fill="none" stroke="#2a2a2a" stroke-width="0.88" />
<path d="M1056.2,351.7 L1073.2,356.7" fill="none" stroke="#2a2a2a" stroke-width="0.88" />
<path d="M1057.6,342.4 L1074.6,347.4" fill="none" stroke="#2a2a2a" stroke-width="0.88" />
<path d="M1060.3,333.1 L1077.3,338.1" fill="none" stroke="#2a2a2a" stroke-width="0.88" />
<path d="M1064.1,324.4 L1081.1,329.4" fill="none" stroke="#2a2a2a" stroke-width="0.88" />
<path d="M1068.8,316.6 L1085.8,321.6" fill="none" stroke="#2a2a2a" stroke-width="0.88" />
<path d="M1074.3,310.1 L1091.3,315.1" fill="none" stroke="#2a2a2a" stroke-width="0.88" />
<path d="M1080.2,305.3 L1097.2,310.3" fill="none" stroke="#2a2a2a" stroke-width="0.88" />
<path d="M1086.2,302.3 L1103.2,307.3" fill="none" stroke="#2a2a2a" stroke-width="0.88" />
<path d="M1092,301.4 L1109,306.4" fill="none" stroke="#2a2a2a" stroke-width="0.88" />
<path d="M1097.4,302.6 L1114.4,307.6" fill="none" stroke="#2a2a2a" stroke-width="0.88" />
<path d="M1102,305.8 L1119,310.8" fill="none" stroke="#2a2a2a" stroke-width="0.88" />
<ellipse cx="1099.8" cy="348" rx="23.8" ry="41.7" transform="rotate(18 1099.8 348)" fill="#fff" stroke="#2a2a2a" stroke-width="1.54" />
<ellipse cx="1096.5" cy="350.8" rx="19.5" ry="30.7" transform="rotate(18 1096.5 350.8)" fill="none" stroke="#2a2a2a" stroke-width="1.54" />
<ellipse cx="1098.5" cy="351.5" rx="18" ry="29.5" transform="rotate(18 1098.5 351.5)" fill="none" stroke="#2a2a2a" stroke-width="0.99" />
<ellipse cx="1095" cy="349.8" rx="9.6" ry="14" transform="rotate(18 1095 349.8)" fill="none" stroke="#2a2a2a" stroke-width="1.32" />
<ellipse cx="1097" cy="351" rx="7.5" ry="12" transform="rotate(18 1097 351)" fill="none" stroke="#2a2a2a" stroke-width="0.99" />
<ellipse cx="1096.8" cy="350.8" rx="5" ry="7.8" transform="rotate(18 1096.8 350.8)" fill="none" stroke="#2a2a2a" stroke-width="1.43" />
<path d="M1001,310 L1001,309.5 L1001,309 L1001.1,308.6 L1001.2,308.1 L1001.3,307.6 L1001.4,307 L1001.6,306.5 L1001.7,306 L1001.9,305.5 L1002.2,305 L1002.4,304.6 L1002.7,304.1 L1003,303.6 L1003.3,303.2 L1003.6,302.8 L1003.9,302.3 L1004.2,301.9 L1004.6,301.6 L1005,301.2 L1005.4,300.9 L1005.7,300.6 L1006.1,300.3 L1006.5,300.1 L1006.9,299.9 L1007.3,299.7 L1007.7,299.6 L1008.1,299.4 L1008.5,299.4 L1008.8,299.3 L1009.2,299.3 L1009.6,299.3 L1009.9,299.3 L1010.3,299.4 L1010.6,299.5 L1010.9,299.7 L1052.9,320.7 L1053.2,320.9 L1053.5,321.1 L1053.7,321.3 L1054,321.6 L1054.2,321.9 L1054.4,322.2 L1054.5,322.5 L1054.7,322.9 L1054.8,323.3 L1054.9,323.7 L1055,324.1 L1055,324.5 L1055,325 L1055,325.5 L1055,326 L1054.9,326.4 L1054.8,326.9 L1054.7,327.4 L1054.6,328 L1054.4,328.5 L1054.3,329 L1054.1,329.5 L1053.8,330 L1053.6,330.4 L1053.3,330.9 L1053,331.4 L1052.7,331.8 L1052.4,332.2 L1052.1,332.7 L1051.8,333.1 L1051.4,333.4 L1051,333.8 L1050.7,334.1 L1050.3,334.4 L1049.9,334.7 L1049.5,334.9 L1049.1,335.1 L1048.7,335.3 L1048.3,335.4 L1047.9,335.6 L1047.5,335.6 L1047.2,335.7 L1046.8,335.7 L1046.4,335.7 L1046.1,335.7 L1045.7,335.6 L1045.4,335.5 L1045.1,335.3 L1003.1,314.3 L1002.8,314.1 L1002.5,313.9 L1002.3,313.7 L1002,313.4 L1001.8,313.1 L1001.6,312.8 L1001.5,312.5 L1001.3,312.1 L1001.2,311.7 L1001.1,311.3 L1001,310.9 L1001,310.5 Z" fill="#fff" stroke="#2a2a2a" stroke-width="1.65" />
<ellipse cx="1049" cy="328" rx="5.2" ry="8.3" transform="rotate(28 1049 328)" fill="#fff" stroke="#2a2a2a" stroke-width="1.65" />
<ellipse cx="1049.5" cy="328.3" rx="3.5" ry="6.2" transform="rotate(28 1049.5 328.3)" fill="none" stroke="#2a2a2a" stroke-width="0.88" />
</g>
<!-- 24_sprocket15133.svg -->
<g stroke-linejoin="round" stroke-linecap="round">
<path d="M863.2,643.9 L862.5,644.9 L861.4,645.7 L859.5,645.9 L858.5,646.6 L857.8,647.5 L857.2,648.5 L856.9,649.8 L857.3,651.8 L856.8,653.2 L856.1,654.3 L855.2,655.1 L854.2,655.6 L852.5,655.1 L851.4,655.5 L850.6,656.2 L849.8,657.1 L849.3,658.3 L849.1,660.6 L848.4,661.9 L847.6,662.8 L846.6,663.4 L845.6,663.6 L844.2,662.5 L843.2,662.6 L842.3,663 L841.4,663.7 L840.7,664.8 L840,667.2 L839.1,668.3 L838.2,669 L837.2,669.3 L836.2,669.1 L835.3,667.5 L834.4,667.3 L833.5,667.4 L832.6,667.9 L831.7,668.8 L830.6,671.1 L829.6,672 L828.6,672.4 L827.7,672.4 L826.8,671.9 L826.4,669.9 L825.6,669.3 L824.8,669.1 L824,669.4 L822.9,670 L821.4,672.1 L820.3,672.7 L819.4,672.8 L818.6,672.4 L818,671.6 L818,669.3 L817.5,668.5 L816.9,668.1 L816,668 L815,668.3 L813.2,670 L812.1,670.3 L811.3,670.1 L810.7,669.5 L810.3,668.4 L810.9,666 L810.6,664.9 L810.1,664.3 L809.4,663.9 L808.4,663.9 L806.5,665.1 L805.5,665 L804.8,664.5 L804.4,663.7 L804.3,662.4 L805.3,660.1 L805.4,658.9 L805.1,658 L804.5,657.4 L803.7,657.1 L801.7,657.7 L800.8,657.3 L800.4,656.5 L800.2,655.5 L800.4,654.1 L801.8,652 L802.1,650.7 L802.1,649.7 L801.7,648.9 L801,648.2 L799.2,648.2 L798.5,647.5 L798.3,646.5 L798.4,645.4 L798.9,644 L800.6,642.2 L801.1,641 L801.3,639.9 L801.2,638.9 L800.7,638 L799.1,637.4 L798.7,636.4 L798.7,635.3 L799,634.1 L799.8,632.8 L801.7,631.5 L802.4,630.4 L802.8,629.3 L803,628.2 L802.8,627.1 L801.5,625.9 L801.3,624.7 L801.6,623.5 L802.2,622.4 L803.1,621.3 L805,620.6 L806,619.6 L806.6,618.6 L806.9,617.5 L807,616.3 L806.1,614.6 L806.3,613.3 L806.8,612.1 L807.5,611.1 L808.6,610.3 L810.5,610.1 L811.5,609.4 L812.2,608.5 L812.8,607.5 L813.1,606.2 L812.7,604.2 L813.2,602.8 L813.9,601.7 L814.8,600.9 L815.8,600.4 L817.5,600.9 L818.6,600.5 L819.4,599.8 L820.2,598.9 L820.7,597.7 L820.9,595.4 L821.6,594.1 L822.4,593.2 L823.4,592.6 L824.4,592.4 L825.8,593.5 L826.8,593.4 L827.7,593 L828.6,592.3 L829.3,591.2 L830,588.8 L830.9,587.7 L831.8,587 L832.8,586.7 L833.8,586.9 L834.7,588.5 L835.6,588.7 L836.5,588.6 L837.4,588.1 L838.3,587.2 L839.4,584.9 L840.4,584 L841.4,583.6 L842.3,583.6 L843.2,584.1 L843.6,586.1 L844.4,586.7 L845.2,586.9 L846,586.6 L847.1,586 L848.6,583.9 L849.7,583.3 L850.6,583.2 L851.4,583.6 L852,584.4 L852,586.7 L852.5,587.5 L853.1,587.9 L854,588 L855,587.7 L856.8,586 L857.9,585.7 L858.7,585.9 L859.3,586.5 L859.7,587.6 L859.1,590 L859.4,591.1 L859.9,591.7 L860.6,592.1 L861.6,592.1 L863.5,590.9 L864.5,591 L865.2,591.5 L865.6,592.3 L865.7,593.6 L864.7,595.9 L864.6,597.1 L864.9,598 L865.5,598.6 L866.3,598.9 L868.3,598.3 L869.2,598.7 L869.6,599.5 L869.8,600.5 L869.6,601.9 L868.2,604 L867.9,605.3 L867.9,606.3 L868.3,607.1 L869,607.8 L870.8,607.8 L871.5,608.5 L871.7,609.5 L871.6,610.6 L871.1,612 L869.4,613.8 L868.9,615 L868.7,616.1 L868.8,617.1 L869.3,618 L870.9,618.6 L871.3,619.6 L871.3,620.7 L871,621.9 L870.2,623.2 L868.3,624.5 L867.6,625.6 L867.2,626.7 L867,627.8 L867.2,628.9 L868.5,630.1 L868.7,631.3 L868.4,632.5 L867.8,633.6 L866.9,634.7 L865,635.4 L864,636.4 L863.4,637.4 L863.1,638.5 L863,639.7 L863.9,641.4 L863.7,642.7 L863.2,643.9 Z" fill="#fff" stroke="#2a2a2a" stroke-width="1.43" />
<ellipse cx="833.4" cy="610.2" rx="5.6" ry="8.6" transform="rotate(20 833.4 610.2)" fill="none" stroke="#2a2a2a" stroke-width="1.76" />
<ellipse cx="852.6" cy="609" rx="5.6" ry="8.6" transform="rotate(20 852.6 609)" fill="none" stroke="#2a2a2a" stroke-width="1.76" />
<ellipse cx="817.2" cy="631.2" rx="5.6" ry="8.6" transform="rotate(20 817.2 631.2)" fill="none" stroke="#2a2a2a" stroke-width="1.76" />
<ellipse cx="855" cy="630.6" rx="5.6" ry="8.6" transform="rotate(20 855 630.6)" fill="none" stroke="#2a2a2a" stroke-width="1.76" />
<ellipse cx="819.6" cy="651.6" rx="5.6" ry="8.6" transform="rotate(20 819.6 651.6)" fill="none" stroke="#2a2a2a" stroke-width="1.76" />
<ellipse cx="838.2" cy="650.4" rx="5.6" ry="8.6" transform="rotate(20 838.2 650.4)" fill="none" stroke="#2a2a2a" stroke-width="1.76" />
<path d="M831,624 L838,617.5 Q842.5,616.5 842,621 L841.5,634 Q841,637.5 837,639 L831.5,641 Q829,641.5 829.5,638 Z" fill="none" stroke="#2a2a2a" stroke-width="1.43" />
<path d="M831.5,638 L840.5,633" fill="none" stroke="#2a2a2a" stroke-width="0.99" />
<path d="M795.5,590.5 Q790,594 790.5,602 Q792,608.5 799.5,609 Q807.5,608.5 809,600 Q809.5,592.5 804,588.5" fill="none" stroke="#2a2a2a" stroke-width="1.54" />
<path d="M797.5,592.5 Q793.5,596 794,602 Q795.5,606 800,606 Q805.5,605.5 806,599.5 Q806,594 802.5,591" fill="none" stroke="#2a2a2a" stroke-width="1.10" />
<ellipse cx="796.5" cy="591.5" rx="1.6" ry="2.2" transform="rotate(20 796.5 591.5)" fill="none" stroke="#2a2a2a" stroke-width="1.32" />
<ellipse cx="803.3" cy="589.8" rx="1.6" ry="2.2" transform="rotate(20 803.3 589.8)" fill="none" stroke="#2a2a2a" stroke-width="1.32" />
</g>
<!-- 25_chain.svg -->
<g stroke-linejoin="round" stroke-linecap="round">
<path d="M657,641 C655,622 662,606 678,598 C692,592 705,589 716,586" fill="none" stroke="#2a2a2a" stroke-width="1.32" />
<path d="M668,641 C667,626 672,614 685,607 C697,601 708,598 718,595" fill="none" stroke="#2a2a2a" stroke-width="1.32" />
<path d="M716,586 C720,587 721,593 718,595" fill="none" stroke="#2a2a2a" stroke-width="1.21" />
<path d="M655,640 C653,650 660,655 667,654 C673,652 672,644 668,640" fill="none" stroke="#2a2a2a" stroke-width="1.32" />
<path d="M723.5,583.3 Q725.9,584.3 728.7,583.1 Q731.7,582.1 732.8,579.6 A3.8,3.8 0 0 1 735.5,586.7 Q733.1,585.7 730.3,586.9 Q727.3,587.9 726.2,590.4 A3.8,3.8 0 0 1 723.5,583.3 Z" fill="#fff" stroke="#2a2a2a" stroke-width="1.10" />
<path d="M725.0,587.8 Q727.4,588.8 730.2,587.6 Q733.2,586.6 734.3,584.1 A3.8,3.8 0 0 1 737.0,591.2 Q734.6,590.2 731.8,591.4 Q728.8,592.4 727.7,594.9 A3.8,3.8 0 0 1 725.0,587.8 Z" fill="#fff" stroke="#2a2a2a" stroke-width="1.32" />
<path d="M742.4,575.8 Q744.9,576.9 747.7,575.6 Q750.7,574.6 751.7,572.1 A3.8,3.8 0 0 1 754.6,579.2 Q752.1,578.1 749.3,579.4 Q746.3,580.4 745.3,582.9 A3.8,3.8 0 0 1 742.4,575.8 Z" fill="#fff" stroke="#2a2a2a" stroke-width="1.10" />
<path d="M743.9,580.3 Q746.4,581.4 749.2,580.1 Q752.2,579.1 753.2,576.6 A3.8,3.8 0 0 1 756.1,583.7 Q753.6,582.6 750.8,583.9 Q747.8,584.9 746.8,587.4 A3.8,3.8 0 0 1 743.9,580.3 Z" fill="#fff" stroke="#2a2a2a" stroke-width="1.32" />
<path d="M762.4,567.7 Q764.9,568.7 767.7,567.3 Q770.6,566.3 771.6,563.8 A3.8,3.8 0 0 1 774.6,570.8 Q772.1,569.8 769.3,571.2 Q766.4,572.2 765.4,574.7 A3.8,3.8 0 0 1 762.4,567.7 Z" fill="#fff" stroke="#2a2a2a" stroke-width="1.10" />
<path d="M763.9,572.2 Q766.4,573.2 769.2,571.8 Q772.1,570.8 773.1,568.3 A3.8,3.8 0 0 1 776.1,575.3 Q773.6,574.3 770.8,575.7 Q767.9,576.7 766.9,579.2 A3.8,3.8 0 0 1 763.9,572.2 Z" fill="#fff" stroke="#2a2a2a" stroke-width="1.32" />
<path d="M781.9,559.3 Q784.4,560.3 787.1,558.8 Q790.0,557.8 791.0,555.2 A3.8,3.8 0 0 1 794.1,562.2 Q791.6,561.2 788.9,562.7 Q786.0,563.7 785.0,566.3 A3.8,3.8 0 0 1 781.9,559.3 Z" fill="#fff" stroke="#2a2a2a" stroke-width="1.10" />
<path d="M783.4,563.8 Q785.9,564.8 788.6,563.3 Q791.5,562.3 792.5,559.7 A3.8,3.8 0 0 1 795.6,566.7 Q793.1,565.7 790.4,567.2 Q787.5,568.2 786.5,570.8 A3.8,3.8 0 0 1 783.4,563.8 Z" fill="#fff" stroke="#2a2a2a" stroke-width="1.32" />
<path d="M800.4,552.1 Q802.6,553.7 805.6,552.9 Q808.7,552.6 810.3,550.4 A3.8,3.8 0 0 1 811.6,557.9 Q809.4,556.3 806.4,557.1 Q803.3,557.4 801.7,559.6 A3.8,3.8 0 0 1 800.4,552.1 Z" fill="#fff" stroke="#2a2a2a" stroke-width="1.10" />
<path d="M801.9,556.6 Q804.1,558.2 807.1,557.4 Q810.2,557.1 811.8,554.9 A3.8,3.8 0 0 1 813.1,562.4 Q810.9,560.8 807.9,561.6 Q804.8,561.9 803.2,564.1 A3.8,3.8 0 0 1 801.9,556.6 Z" fill="#fff" stroke="#2a2a2a" stroke-width="1.65" />
<path d="M818.2,551.5 Q818.6,554.2 821.2,555.8 Q823.6,557.8 826.3,557.4 A3.8,3.8 0 0 1 821.8,563.5 Q821.4,560.8 818.8,559.2 Q816.4,557.2 813.7,557.6 A3.8,3.8 0 0 1 818.2,551.5 Z" fill="#fff" stroke="#2a2a2a" stroke-width="1.10" />
<path d="M819.7,556.0 Q820.1,558.7 822.7,560.3 Q825.1,562.3 827.8,561.9 A3.8,3.8 0 0 1 823.3,568.0 Q822.9,565.3 820.3,563.7 Q817.9,561.7 815.2,562.1 A3.8,3.8 0 0 1 819.7,556.0 Z" fill="#fff" stroke="#2a2a2a" stroke-width="1.65" />
<path d="M829.4,561.0 Q828.2,563.5 829.5,566.3 Q830.3,569.2 832.8,570.4 A3.8,3.8 0 0 1 825.6,573.0 Q826.8,570.5 825.5,567.7 Q824.7,564.8 822.2,563.6 A3.8,3.8 0 0 1 829.4,561.0 Z" fill="#fff" stroke="#2a2a2a" stroke-width="1.10" />
<path d="M830.9,565.5 Q829.7,568.0 831.0,570.8 Q831.8,573.7 834.3,574.9 A3.8,3.8 0 0 1 827.1,577.5 Q828.3,575.0 827.0,572.2 Q826.2,569.3 823.7,568.1 A3.8,3.8 0 0 1 830.9,565.5 Z" fill="#fff" stroke="#2a2a2a" stroke-width="1.65" />
<path d="M833.3,573.0 Q831.4,574.9 831.6,578.0 Q831.4,581.1 833.3,583.0 A3.8,3.8 0 0 1 825.7,583.0 Q827.6,581.1 827.4,578.0 Q827.6,574.9 825.7,573.0 A3.8,3.8 0 0 1 833.3,573.0 Z" fill="#fff" stroke="#2a2a2a" stroke-width="1.10" />
<path d="M834.8,577.5 Q832.9,579.4 833.1,582.5 Q832.9,585.6 834.8,587.5 A3.8,3.8 0 0 1 827.2,587.5 Q829.1,585.6 828.9,582.5 Q829.1,579.4 827.2,577.5 A3.8,3.8 0 0 1 834.8,577.5 Z" fill="#fff" stroke="#2a2a2a" stroke-width="1.65" />
<path d="M670,643.5 L797,643.5 L797,656 L670,656 Z" fill="#666" stroke="#2a2a2a" stroke-width="1.32" />
<rect x="671.5" y="645.5" width="17" height="10.5" rx="5" ry="5" fill="#e8e8e8" stroke="#222" stroke-width="1.54"/>
<ellipse cx="675.8" cy="650.8" rx="1.9" ry="1.9" transform="rotate(0 675.8 650.8)" fill="#fff" stroke="#2a2a2a" stroke-width="1.10" />
<ellipse cx="684.2" cy="650.8" rx="1.9" ry="1.9" transform="rotate(0 684.2 650.8)" fill="#fff" stroke="#2a2a2a" stroke-width="1.10" />
<rect x="690.7" y="645.5" width="17" height="10.5" rx="5" ry="5" fill="#e8e8e8" stroke="#222" stroke-width="1.54"/>
<ellipse cx="695" cy="650.8" rx="1.9" ry="1.9" transform="rotate(0 695 650.8)" fill="#fff" stroke="#2a2a2a" stroke-width="1.10" />
<ellipse cx="703.4" cy="650.8" rx="1.9" ry="1.9" transform="rotate(0 703.4 650.8)" fill="#fff" stroke="#2a2a2a" stroke-width="1.10" />
<rect x="709.9" y="645.5" width="17" height="10.5" rx="5" ry="5" fill="#e8e8e8" stroke="#222" stroke-width="1.54"/>
<ellipse cx="714.2" cy="650.8" rx="1.9" ry="1.9" transform="rotate(0 714.2 650.8)" fill="#fff" stroke="#2a2a2a" stroke-width="1.10" />
<ellipse cx="722.6" cy="650.8" rx="1.9" ry="1.9" transform="rotate(0 722.6 650.8)" fill="#fff" stroke="#2a2a2a" stroke-width="1.10" />
<rect x="729.1" y="645.5" width="17" height="10.5" rx="5" ry="5" fill="#e8e8e8" stroke="#222" stroke-width="1.54"/>
<ellipse cx="733.4" cy="650.8" rx="1.9" ry="1.9" transform="rotate(0 733.4 650.8)" fill="#fff" stroke="#2a2a2a" stroke-width="1.10" />
<ellipse cx="741.8" cy="650.8" rx="1.9" ry="1.9" transform="rotate(0 741.8 650.8)" fill="#fff" stroke="#2a2a2a" stroke-width="1.10" />
<rect x="748.3" y="645.5" width="17" height="10.5" rx="5" ry="5" fill="#e8e8e8" stroke="#222" stroke-width="1.54"/>
<ellipse cx="752.6" cy="650.8" rx="1.9" ry="1.9" transform="rotate(0 752.6 650.8)" fill="#fff" stroke="#2a2a2a" stroke-width="1.10" />
<ellipse cx="761" cy="650.8" rx="1.9" ry="1.9" transform="rotate(0 761 650.8)" fill="#fff" stroke="#2a2a2a" stroke-width="1.10" />
<rect x="767.5" y="645.5" width="17" height="10.5" rx="5" ry="5" fill="#e8e8e8" stroke="#222" stroke-width="1.54"/>
<ellipse cx="771.8" cy="650.8" rx="1.9" ry="1.9" transform="rotate(0 771.8 650.8)" fill="#fff" stroke="#2a2a2a" stroke-width="1.10" />
<ellipse cx="780.2" cy="650.8" rx="1.9" ry="1.9" transform="rotate(0 780.2 650.8)" fill="#fff" stroke="#2a2a2a" stroke-width="1.10" />
<rect x="786.7" y="645.5" width="17" height="10.5" rx="5" ry="5" fill="#e8e8e8" stroke="#222" stroke-width="1.54"/>
<ellipse cx="791" cy="650.8" rx="1.9" ry="1.9" transform="rotate(0 791 650.8)" fill="#fff" stroke="#2a2a2a" stroke-width="1.10" />
<ellipse cx="799.4" cy="650.8" rx="1.9" ry="1.9" transform="rotate(0 799.4 650.8)" fill="#fff" stroke="#2a2a2a" stroke-width="1.10" />
<path d="M683.6,644 Q689.6,641.5 695.6,644" fill="none" stroke="#2a2a2a" stroke-width="1.43" />
<path d="M702.8,644 Q708.8,641.5 714.8,644" fill="none" stroke="#2a2a2a" stroke-width="1.43" />
<path d="M722.0,644 Q728.0,641.5 734.0,644" fill="none" stroke="#2a2a2a" stroke-width="1.43" />
<path d="M741.2,644 Q747.2,641.5 753.2,644" fill="none" stroke="#2a2a2a" stroke-width="1.43" />
<path d="M760.4,644 Q766.4,641.5 772.4,644" fill="none" stroke="#2a2a2a" stroke-width="1.43" />
<path d="M779.6,644 Q785.6,641.5 791.6,644" fill="none" stroke="#2a2a2a" stroke-width="1.43" />
</g>
<!-- 26_bracket.svg -->
<g stroke-linejoin="round" stroke-linecap="round">
<path d="M632.7,552.8 L695.9,502.7 L708,503.8 C712,504 716.5,507 716.3,513.7 C716,518 712,522 705.8,523.6 C705,545 700,562 690,577 C683,586 670,591.5 653,592.9 C648,592.5 645,590.5 643.1,589.6 C641,591.5 637,591.5 634,590 C630,587.5 629.5,582 631,579.7 C632,577 634,575 634.3,572 Z" fill="#fff" stroke="#2a2a2a" stroke-width="1.43" />
<path d="M632.7,552.8 L695.9,502.7" fill="none" stroke="#2a2a2a" stroke-width="2.42" />
<path d="M697,504 C696,530 692,550 682,566 C672,580 660,584 645.3,583" fill="none" stroke="#2a2a2a" stroke-width="1.21" />
<path d="M702,505 C701,535 697,556 688,570.5 C678,585 664,589 649,589.5" fill="none" stroke="#2a2a2a" stroke-width="1.10" />
<path d="M632.7,552.8 L639.8,557.7 L639.8,574 C641,579 643,582 645.3,583" fill="none" stroke="#2a2a2a" stroke-width="1.21" />
<path d="M634.3,556 L634.8,572" fill="none" stroke="#2a2a2a" stroke-width="0.88" />
<ellipse cx="710.8" cy="514.8" rx="2.8" ry="4.2" transform="rotate(20 710.8 514.8)" fill="none" stroke="#2a2a2a" stroke-width="1.32" />
<ellipse cx="635.4" cy="583" rx="2.7" ry="3.3" transform="rotate(20 635.4 583)" fill="none" stroke="#2a2a2a" stroke-width="1.21" />
<ellipse cx="662.4" cy="547.3" rx="5.3" ry="8.4" transform="rotate(20 662.4 547.3)" fill="none" stroke="#2a2a2a" stroke-width="1.65" />
<path d="M656.5,505 L604,556" fill="none" stroke="#2a2a2a" stroke-width="1.65" />
<path d="M659.5,497.4 L674.1,506.1 L674,508.3 L672.1,509.4 L657.5,500.6 Z" fill="#fff" stroke="#2a2a2a" stroke-width="1.21" />
<path d="M664,500.1 L663.1,504" fill="none" stroke="#2a2a2a" stroke-width="0.88" />
<path d="M665.9,501.2 L664.9,505.1" fill="none" stroke="#2a2a2a" stroke-width="0.88" />
<path d="M667.8,502.3 L666.8,506.2" fill="none" stroke="#2a2a2a" stroke-width="0.88" />
<path d="M669.6,503.5 L668.7,507.3" fill="none" stroke="#2a2a2a" stroke-width="0.88" />
<path d="M671.5,504.6 L670.6,508.5" fill="none" stroke="#2a2a2a" stroke-width="0.88" />
<ellipse cx="657.2" cy="498.2" rx="2.4" ry="4.9" transform="rotate(31 657.2 498.2)" fill="#fff" stroke="#2a2a2a" stroke-width="1.21" />
<ellipse cx="659.2" cy="499.4" rx="2.4" ry="4.9" transform="rotate(31 659.2 499.4)" fill="#fff" stroke="#2a2a2a" stroke-width="1.21" />
<path d="M599.5,557.9 L614.1,566.6 L614,568.8 L612.1,569.9 L597.5,561.1 Z" fill="#fff" stroke="#2a2a2a" stroke-width="1.21" />
<path d="M604,560.6 L603.1,564.5" fill="none" stroke="#2a2a2a" stroke-width="0.88" />
<path d="M605.9,561.7 L604.9,565.6" fill="none" stroke="#2a2a2a" stroke-width="0.88" />
<path d="M607.8,562.8 L606.8,566.7" fill="none" stroke="#2a2a2a" stroke-width="0.88" />
<path d="M609.6,564 L608.7,567.8" fill="none" stroke="#2a2a2a" stroke-width="0.88" />
<path d="M611.5,565.1 L610.6,569" fill="none" stroke="#2a2a2a" stroke-width="0.88" />
<ellipse cx="597.2" cy="558.7" rx="2.4" ry="4.9" transform="rotate(31 597.2 558.7)" fill="#fff" stroke="#2a2a2a" stroke-width="1.21" />
<ellipse cx="599.2" cy="559.9" rx="2.4" ry="4.9" transform="rotate(31 599.2 559.9)" fill="#fff" stroke="#2a2a2a" stroke-width="1.21" />
</g>
<!-- 30_fasteners.svg -->
<g stroke-linejoin="round" stroke-linecap="round">
<path d="M437.5,241.5 L441,237.5 L447,236.5 L448,254 L441.5,253.5 L437.2,249 Z" fill="#fff" stroke="#2a2a2a" stroke-width="1.32" />
<path d="M441,237.5 L442,253.5" fill="none" stroke="#2a2a2a" stroke-width="0.88" />
<ellipse cx="450.3" cy="246.3" rx="6" ry="9.2" transform="rotate(28 450.3 246.3)" fill="#fff" stroke="#2a2a2a" stroke-width="1.43" />
<ellipse cx="451" cy="246.8" rx="4.3" ry="7.2" transform="rotate(28 451 246.8)" fill="none" stroke="#2a2a2a" stroke-width="0.99" />
<ellipse cx="449.8" cy="247.3" rx="2.6" ry="3.8" transform="rotate(28 449.8 247.3)" fill="#bbb" stroke="#2a2a2a" stroke-width="1.54" />
<ellipse cx="462" cy="255.2" rx="6.8" ry="9" transform="rotate(28 462 255.2)" fill="#fff" stroke="#2a2a2a" stroke-width="1.32" />
<ellipse cx="463" cy="255.8" rx="2.6" ry="4" transform="rotate(28 463 255.8)" fill="none" stroke="#2a2a2a" stroke-width="1.32" />
<path d="M637.8,255.8 L637.8,255.4 L637.9,255.1 L638,254.7 L638.1,254.4 L638.2,254 L638.4,253.7 L638.6,253.3 L638.8,253 L639,252.7 L639.2,252.4 L639.5,252.2 L639.7,252.1 L640,251.9 L640.2,251.8 L640.4,251.8 L640.6,251.8 L640.8,251.8 L652.7,257.1 L652.9,257.1 L653,257.3 L653.1,257.5 L653.2,257.7 L653.3,258 L653.3,258.3 L653.3,258.6 L653.3,258.9 L653.2,259.3 L653.1,259.7 L653,260 L652.9,260.4 L652.7,260.8 L652.5,261.1 L652.3,261.4 L652.1,261.7 L651.9,261.9 L651.6,262.2 L651.4,262.4 L651.1,262.5 L650.9,262.6 L650.7,262.6 L650.5,262.6 L650.3,262.6 L638.4,257.4 L638.2,257.2 L638.1,257.1 L638,256.9 L637.9,256.7 L637.8,256.4 L637.8,256.1 Z" fill="#fff" stroke="#2a2a2a" stroke-width="1.43" />
<path d="M649.4,255.9 L646.5,260.5" fill="none" stroke="#222" stroke-width="1.21" />
<path d="M648.2,255.4 L645.3,260" fill="none" stroke="#222" stroke-width="1.21" />
<path d="M647,254.9 L644.1,259.5" fill="none" stroke="#222" stroke-width="1.21" />
<path d="M645.8,254.4 L642.9,259" fill="none" stroke="#222" stroke-width="1.21" />
<path d="M644.6,253.8 L641.7,258.5" fill="none" stroke="#222" stroke-width="1.21" />
<path d="M643.4,253.3 L640.5,258" fill="none" stroke="#222" stroke-width="1.21" />
<path d="M642.2,252.8 L639.3,257.4" fill="none" stroke="#222" stroke-width="1.21" />
<ellipse cx="639.6" cy="254.6" rx="1.5" ry="3" transform="rotate(24 639.6 254.6)" fill="#666" stroke="#2a2a2a" stroke-width="1.21" />
<path d="M646.4,260.8 L646.5,260.4 L646.5,259.9 L646.6,259.4 L646.7,258.9 L646.9,258.4 L647.1,257.9 L647.3,257.4 L647.6,256.9 L647.9,256.4 L648.2,256.1 L648.5,255.7 L648.8,255.4 L649.2,255.1 L649.5,254.9 L649.8,254.8 L650.1,254.8 L650.4,254.8 L650.7,254.9 L653.2,256 L653.4,256.1 L653.6,256.3 L653.8,256.6 L653.9,256.9 L654,257.3 L654.1,257.7 L654,258.1 L654,258.6 L653.9,259.1 L653.8,259.6 L653.6,260.1 L653.4,260.6 L653.2,261.1 L652.9,261.6 L652.6,262.1 L652.3,262.4 L652,262.8 L651.7,263.1 L651.3,263.4 L651,263.6 L650.7,263.7 L650.4,263.7 L650.1,263.7 L649.8,263.6 L647.3,262.5 L647.1,262.4 L646.9,262.2 L646.7,261.9 L646.6,261.6 L646.5,261.2 Z" fill="#fff" stroke="#2a2a2a" stroke-width="1.43" />
<ellipse cx="651.5" cy="259.8" rx="2.1" ry="4.2" transform="rotate(23.7 651.5 259.8)" fill="#fff" stroke="#2a2a2a" stroke-width="1.43" />
<path d="M636.9,273.6 L636.9,273.3 L637,273 L637,272.6 L637.2,272.2 L637.3,271.9 L637.5,271.5 L637.6,271.2 L637.9,270.9 L638.1,270.6 L638.3,270.3 L638.5,270 L638.8,269.8 L639,269.7 L639.3,269.5 L639.5,269.5 L639.8,269.4 L640,269.4 L640.1,269.5 L651.3,275.1 L651.5,275.2 L651.6,275.4 L651.8,275.6 L651.8,275.8 L651.9,276.1 L651.9,276.4 L651.9,276.7 L651.8,277 L651.8,277.4 L651.6,277.8 L651.5,278.1 L651.3,278.5 L651.2,278.8 L651,279.1 L650.7,279.4 L650.5,279.7 L650.2,280 L650,280.2 L649.8,280.3 L649.5,280.5 L649.3,280.5 L649,280.6 L648.8,280.6 L648.7,280.5 L637.5,274.9 L637.3,274.8 L637.2,274.6 L637,274.4 L637,274.2 L636.9,273.9 Z" fill="#fff" stroke="#2a2a2a" stroke-width="1.43" />
<path d="M648.1,273.9 L644.9,278.3" fill="none" stroke="#222" stroke-width="1.21" />
<path d="M646.9,273.3 L643.7,277.8" fill="none" stroke="#222" stroke-width="1.21" />
<path d="M645.8,272.7 L642.6,277.2" fill="none" stroke="#222" stroke-width="1.21" />
<path d="M644.6,272.1 L641.4,276.6" fill="none" stroke="#222" stroke-width="1.21" />
<path d="M643.4,271.5 L640.3,276" fill="none" stroke="#222" stroke-width="1.21" />
<path d="M642.3,270.9 L639.1,275.4" fill="none" stroke="#222" stroke-width="1.21" />
<ellipse cx="638.8" cy="272.2" rx="1.5" ry="3" transform="rotate(24 638.8 272.2)" fill="#666" stroke="#2a2a2a" stroke-width="1.21" />
<path d="M644.9,278.8 L645,278.4 L645,277.9 L645.1,277.4 L645.2,276.9 L645.4,276.4 L645.6,275.9 L645.8,275.4 L646.1,274.9 L646.4,274.4 L646.7,274.1 L647,273.7 L647.3,273.4 L647.7,273.1 L648,272.9 L648.3,272.8 L648.6,272.8 L648.9,272.8 L649.2,272.9 L651.7,274 L651.9,274.1 L652.1,274.3 L652.3,274.6 L652.4,274.9 L652.5,275.3 L652.6,275.7 L652.5,276.1 L652.5,276.6 L652.4,277.1 L652.3,277.6 L652.1,278.1 L651.9,278.6 L651.7,279.1 L651.4,279.6 L651.1,280.1 L650.8,280.4 L650.5,280.8 L650.2,281.1 L649.8,281.4 L649.5,281.6 L649.2,281.7 L648.9,281.7 L648.6,281.7 L648.3,281.6 L645.8,280.5 L645.6,280.4 L645.4,280.2 L645.2,279.9 L645.1,279.6 L645,279.2 Z" fill="#fff" stroke="#2a2a2a" stroke-width="1.43" />
<ellipse cx="650" cy="277.8" rx="2.1" ry="4.2" transform="rotate(23.7 650 277.8)" fill="#fff" stroke="#2a2a2a" stroke-width="1.43" />
<path d="M651,264 L650.5,273.5" fill="none" stroke="#2a2a2a" stroke-width="1.76" />
<path d="M575.7,305.5 L575.7,305.2 L575.7,305 L575.8,304.7 L575.9,304.4 L576,304.1 L576.1,303.9 L576.3,303.6 L576.4,303.4 L576.6,303.2 L576.8,303 L576.9,302.9 L577.1,302.7 L577.3,302.6 L577.4,302.6 L577.6,302.5 L577.8,302.6 L577.9,302.6 L588.7,307.4 L588.8,307.5 L588.9,307.6 L589,307.7 L589.1,307.9 L589.1,308.1 L589.1,308.3 L589.1,308.5 L589.1,308.8 L589.1,309 L589,309.3 L588.9,309.6 L588.8,309.9 L588.7,310.1 L588.5,310.4 L588.4,310.6 L588.2,310.8 L588,311 L587.9,311.1 L587.7,311.3 L587.5,311.4 L587.4,311.4 L587.2,311.5 L587,311.4 L586.9,311.4 L576.1,306.6 L576,306.5 L575.9,306.4 L575.8,306.3 L575.7,306.1 L575.7,305.9 L575.7,305.7 Z" fill="#fff" stroke="#2a2a2a" stroke-width="1.21" />
<ellipse cx="577" cy="304.6" rx="1.1" ry="2.2" transform="rotate(-156 577 304.6)" fill="#fff" stroke="#2a2a2a" stroke-width="1.21" />
<path d="M582.9,309.8 L582.9,309.3 L583,308.9 L583.1,308.4 L583.2,307.9 L583.4,307.5 L583.6,307 L583.8,306.6 L584.1,306.2 L584.4,305.8 L584.7,305.5 L585,305.2 L585.3,305 L585.6,304.9 L586,304.8 L586.3,304.7 L586.5,304.7 L586.8,304.8 L589.8,306.1 L590,306.2 L590.3,306.4 L590.4,306.7 L590.6,307 L590.7,307.3 L590.7,307.7 L590.7,308.1 L590.7,308.6 L590.6,309 L590.5,309.5 L590.4,310 L590.2,310.4 L590,310.9 L589.8,311.3 L589.5,311.7 L589.2,312.1 L588.9,312.4 L588.6,312.6 L588.3,312.9 L588,313 L587.6,313.1 L587.3,313.2 L587,313.2 L586.8,313.1 L583.8,311.8 L583.5,311.6 L583.3,311.4 L583.2,311.2 L583,310.9 L582.9,310.6 L582.9,310.2 Z" fill="#fff" stroke="#2a2a2a" stroke-width="1.43" />
<ellipse cx="588.3" cy="309.6" rx="2.1" ry="3.8" transform="rotate(23.4 588.3 309.6)" fill="#fff" stroke="#2a2a2a" stroke-width="1.43" />
<path d="M573.2,327.3 L573.2,327 L573.3,326.8 L573.3,326.5 L573.4,326.3 L573.5,326 L573.6,325.7 L573.9,325.2 L574,325 L574.2,324.8 L574.4,324.6 L574.6,324.5 L574.7,324.3 L574.9,324.2 L575.1,324.2 L575.2,324.2 L575.4,324.2 L575.5,324.2 L585.7,329 L585.9,329.1 L586,329.2 L586,329.3 L586.1,329.5 L586.1,329.7 L586.2,329.9 L586.2,330.2 L586.1,330.4 L586.1,330.7 L586,330.9 L585.9,331.2 L585.8,331.5 L585.5,332 L585.4,332.2 L585.2,332.4 L585,332.6 L584.8,332.7 L584.7,332.9 L584.5,333 L584.3,333 L584.1,333 L584,333 L583.9,333 L573.7,328.2 L573.5,328.1 L573.4,328 L573.4,327.9 L573.3,327.7 L573.2,327.5 Z" fill="#fff" stroke="#2a2a2a" stroke-width="1.21" />
<ellipse cx="574.6" cy="326.2" rx="1.1" ry="2.2" transform="rotate(-154.8 574.6 326.2)" fill="#fff" stroke="#2a2a2a" stroke-width="1.21" />
<path d="M579.9,331.4 L579.9,330.9 L580,330.5 L580.1,330 L580.2,329.5 L580.4,329.1 L580.6,328.6 L580.8,328.2 L581.1,327.8 L581.4,327.4 L581.7,327.1 L582,326.9 L582.3,326.6 L582.6,326.5 L583,326.4 L583.3,326.3 L583.5,326.3 L583.8,326.4 L586.8,327.7 L587,327.9 L587.3,328.1 L587.4,328.3 L587.6,328.6 L587.7,328.9 L587.7,329.3 L587.7,329.7 L587.7,330.2 L587.6,330.6 L587.5,331.1 L587.4,331.6 L587.2,332 L587,332.5 L586.8,332.9 L586.5,333.3 L586.2,333.7 L585.9,334 L585.6,334.2 L585.3,334.5 L585,334.6 L584.6,334.7 L584.3,334.8 L584,334.8 L583.8,334.7 L580.8,333.4 L580.5,333.2 L580.3,333.1 L580.2,332.8 L580,332.5 L579.9,332.2 L579.9,331.8 Z" fill="#fff" stroke="#2a2a2a" stroke-width="1.43" />
<ellipse cx="585.3" cy="331.2" rx="2.1" ry="3.8" transform="rotate(23.4 585.3 331.2)" fill="#fff" stroke="#2a2a2a" stroke-width="1.43" />
<path d="M558.9,346.3 L558.9,346.1 L558.9,345.8 L559,345.5 L559.1,345.3 L559.2,345 L559.3,344.7 L559.4,344.5 L559.6,344.2 L559.7,344 L559.9,343.8 L560.1,343.7 L560.2,343.5 L560.4,343.4 L560.6,343.4 L560.7,343.3 L560.9,343.3 L561,343.4 L572.1,347.9 L572.2,347.9 L572.4,348 L572.5,348.2 L572.5,348.3 L572.6,348.5 L572.6,348.8 L572.6,349 L572.6,349.2 L572.6,349.5 L572.5,349.8 L572.4,350 L572.3,350.3 L572.2,350.6 L572.1,350.8 L571.9,351.1 L571.8,351.3 L571.6,351.5 L571.4,351.6 L571.3,351.8 L571.1,351.9 L570.9,351.9 L570.8,352 L570.6,352 L570.5,351.9 L559.4,347.4 L559.2,347.4 L559.1,347.3 L559,347.1 L559,347 L558.9,346.8 L558.9,346.6 Z" fill="#fff" stroke="#2a2a2a" stroke-width="1.21" />
<ellipse cx="560.2" cy="345.4" rx="1.1" ry="2.2" transform="rotate(-157.9 560.2 345.4)" fill="#fff" stroke="#2a2a2a" stroke-width="1.21" />
<path d="M566.4,350.3 L566.4,349.8 L566.5,349.4 L566.6,348.9 L566.7,348.4 L566.9,348 L567.1,347.5 L567.3,347.1 L567.6,346.7 L567.9,346.3 L568.2,346 L568.5,345.8 L568.8,345.5 L569.1,345.4 L569.5,345.3 L569.8,345.2 L570,345.2 L570.3,345.3 L573.3,346.6 L573.5,346.8 L573.8,346.9 L573.9,347.2 L574.1,347.5 L574.2,347.8 L574.2,348.2 L574.2,348.6 L574.2,349.1 L574.1,349.5 L574,350 L573.9,350.5 L573.7,350.9 L573.5,351.4 L573.3,351.8 L573,352.2 L572.7,352.6 L572.4,352.9 L572.1,353.1 L571.8,353.4 L571.5,353.5 L571.1,353.6 L570.8,353.7 L570.5,353.7 L570.3,353.6 L567.3,352.3 L567,352.1 L566.8,351.9 L566.7,351.7 L566.5,351.4 L566.4,351.1 L566.4,350.7 Z" fill="#fff" stroke="#2a2a2a" stroke-width="1.43" />
<ellipse cx="571.8" cy="350.1" rx="2.1" ry="3.8" transform="rotate(23.4 571.8 350.1)" fill="#fff" stroke="#2a2a2a" stroke-width="1.43" />
<path d="M585.5,313.5 L585,327" fill="none" stroke="#2a2a2a" stroke-width="1.76" />
<path d="M583,334.5 L573,346.5" fill="none" stroke="#2a2a2a" stroke-width="1.76" />
<path d="M682.6,332.5 L682.6,331.8 L682.7,331.1 L682.8,330.4 L683,329.6 L683.3,328.8 L683.6,328.1 L684,327.3 L684.4,326.6 L684.8,325.9 L685.2,325.3 L685.7,324.8 L686.2,324.3 L686.6,323.9 L687.1,323.6 L687.5,323.4 L688,323.3 L688.4,323.3 L688.7,323.4 L696.2,326.7 L696.5,326.9 L696.8,327.2 L697,327.6 L697.2,328.1 L697.3,328.6 L697.3,329.2 L697.3,329.9 L697.2,330.6 L697.1,331.4 L696.9,332.1 L696.6,332.9 L696.3,333.6 L695.9,334.4 L695.5,335.1 L695.1,335.8 L694.7,336.4 L694.2,336.9 L693.7,337.4 L693.3,337.8 L692.8,338.1 L692.4,338.3 L691.9,338.4 L691.5,338.4 L691.2,338.3 L683.7,335 L683.4,334.8 L683.1,334.5 L682.9,334.1 L682.7,333.6 L682.6,333.1 Z" fill="#fff" stroke="#2a2a2a" stroke-width="1.32" />
<ellipse cx="693.7" cy="332.5" rx="2.8" ry="6.3" transform="rotate(23.7 693.7 332.5)" fill="#fff" stroke="#2a2a2a" stroke-width="1.32" />
<path d="M691.4,334.6 L691.4,334.1 L691.5,333.7 L691.6,333.2 L691.7,332.7 L691.9,332.3 L692,331.8 L692.3,331.3 L692.5,330.9 L692.8,330.4 L693.1,330 L693.4,329.7 L693.7,329.4 L694,329.1 L694.3,329 L694.6,328.8 L694.8,328.8 L695.1,328.8 L695.3,328.8 L706.6,333.8 L706.8,334 L707,334.2 L707.1,334.4 L707.2,334.7 L707.3,335 L707.3,335.4 L707.3,335.9 L707.2,336.3 L707.1,336.8 L707,337.3 L706.8,337.7 L706.6,338.2 L706.4,338.7 L706.2,339.1 L705.9,339.6 L705.6,340 L705.3,340.3 L705,340.6 L704.7,340.9 L704.4,341 L704.1,341.2 L703.9,341.2 L703.6,341.2 L703.4,341.2 L692.1,336.2 L691.9,336 L691.7,335.8 L691.6,335.6 L691.5,335.3 L691.4,335 Z" fill="#fff" stroke="#2a2a2a" stroke-width="1.21" />
<ellipse cx="705" cy="337.5" rx="1.8" ry="4" transform="rotate(23.9 705 337.5)" fill="#fff" stroke="#2a2a2a" stroke-width="1.21" />
<path d="M695.1,337.2 L698.6,330.9" fill="none" stroke="#666" stroke-width="0.99" />
<path d="M696.3,337.7 L699.9,331.4" fill="none" stroke="#666" stroke-width="0.99" />
<path d="M697.6,338.3 L701.2,332" fill="none" stroke="#666" stroke-width="0.99" />
<path d="M698.9,338.8 L702.5,332.5" fill="none" stroke="#666" stroke-width="0.99" />
<path d="M700.2,339.4 L703.8,333.1" fill="none" stroke="#666" stroke-width="0.99" />
<ellipse cx="705" cy="337.5" rx="1.8" ry="4" transform="rotate(24 705 337.5)" fill="#fff" stroke="#2a2a2a" stroke-width="1.21" />
<path d="M684.8,355 L684.8,354.3 L684.9,353.6 L685,352.9 L685.2,352.1 L685.5,351.3 L685.8,350.6 L686.2,349.8 L686.5,349.1 L687,348.4 L687.4,347.8 L687.9,347.3 L688.4,346.8 L688.8,346.4 L689.3,346.1 L689.8,345.9 L690.2,345.8 L690.6,345.8 L690.9,345.9 L698.4,349.2 L698.8,349.4 L699,349.7 L699.2,350.1 L699.4,350.6 L699.5,351.1 L699.5,351.7 L699.5,352.4 L699.4,353.1 L699.3,353.9 L699.1,354.6 L698.8,355.4 L698.5,356.1 L698.1,356.9 L697.8,357.6 L697.3,358.3 L696.9,358.9 L696.4,359.4 L695.9,359.9 L695.5,360.3 L695,360.6 L694.5,360.8 L694.1,360.9 L693.7,360.9 L693.4,360.8 L685.9,357.5 L685.5,357.3 L685.3,357 L685.1,356.6 L684.9,356.1 L684.8,355.6 Z" fill="#fff" stroke="#2a2a2a" stroke-width="1.32" />
<ellipse cx="695.9" cy="355" rx="2.8" ry="6.3" transform="rotate(23.7 695.9 355)" fill="#fff" stroke="#2a2a2a" stroke-width="1.32" />
<path d="M693.6,357.1 L693.6,356.7 L693.7,356.2 L693.8,355.8 L693.9,355.3 L694,354.8 L694.2,354.3 L694.5,353.8 L694.7,353.4 L695,352.9 L695.2,352.6 L695.5,352.2 L695.8,351.9 L696.1,351.6 L696.4,351.5 L696.7,351.3 L697,351.3 L697.2,351.2 L697.5,351.3 L709.4,356.3 L709.5,356.4 L709.7,356.6 L709.9,356.9 L710,357.1 L710,357.5 L710.1,357.9 L710.1,358.3 L710,358.8 L709.9,359.2 L709.8,359.7 L709.6,360.2 L709.5,360.7 L709.2,361.2 L709,361.6 L708.7,362.1 L708.5,362.4 L708.2,362.8 L707.9,363.1 L707.6,363.4 L707.3,363.5 L707,363.7 L706.7,363.7 L706.5,363.8 L706.2,363.7 L694.4,358.7 L694.1,358.6 L694,358.4 L693.8,358.1 L693.7,357.9 L693.7,357.5 Z" fill="#fff" stroke="#2a2a2a" stroke-width="1.21" />
<ellipse cx="707.8" cy="360" rx="1.8" ry="4" transform="rotate(22.8 707.8 360)" fill="#fff" stroke="#2a2a2a" stroke-width="1.21" />
<path d="M697.3,359.7 L700.8,353.3" fill="none" stroke="#666" stroke-width="0.99" />
<path d="M698.6,360.2 L702.1,353.8" fill="none" stroke="#666" stroke-width="0.99" />
<path d="M699.9,360.7 L703.4,354.3" fill="none" stroke="#666" stroke-width="0.99" />
<path d="M701.2,361.2 L704.7,354.9" fill="none" stroke="#666" stroke-width="0.99" />
<path d="M702.5,361.8 L706,355.4" fill="none" stroke="#666" stroke-width="0.99" />
<path d="M703.8,362.3 L707.3,355.9" fill="none" stroke="#666" stroke-width="0.99" />
<ellipse cx="707.8" cy="360" rx="1.8" ry="4" transform="rotate(24 707.8 360)" fill="#fff" stroke="#2a2a2a" stroke-width="1.21" />
<path d="M655.1,357.2 L655.1,356.5 L655.2,355.8 L655.3,355.1 L655.5,354.3 L655.8,353.5 L656.1,352.8 L656.5,352 L656.9,351.3 L657.3,350.6 L657.7,350 L658.2,349.5 L658.7,349 L659.1,348.6 L659.6,348.3 L660,348.1 L660.5,348 L660.9,348 L661.2,348.1 L668.7,351.4 L669,351.6 L669.3,351.9 L669.5,352.3 L669.7,352.8 L669.8,353.3 L669.8,353.9 L669.8,354.6 L669.7,355.3 L669.6,356.1 L669.4,356.8 L669.1,357.6 L668.8,358.3 L668.4,359.1 L668,359.8 L667.6,360.5 L667.2,361.1 L666.7,361.6 L666.2,362.1 L665.8,362.5 L665.3,362.8 L664.9,363 L664.4,363.1 L664,363.1 L663.7,363 L656.2,359.7 L655.9,359.5 L655.6,359.2 L655.4,358.8 L655.2,358.3 L655.1,357.8 Z" fill="#fff" stroke="#2a2a2a" stroke-width="1.32" />
<ellipse cx="666.2" cy="357.2" rx="2.8" ry="6.3" transform="rotate(23.7 666.2 357.2)" fill="#fff" stroke="#2a2a2a" stroke-width="1.32" />
<path d="M663.9,359.2 L663.9,358.8 L664,358.4 L664,357.9 L664.2,357.4 L664.4,356.9 L664.6,356.5 L664.8,356 L665,355.5 L665.3,355.1 L665.6,354.7 L665.9,354.4 L666.2,354.1 L666.5,353.9 L666.8,353.7 L667.1,353.6 L667.4,353.5 L667.6,353.5 L667.9,353.6 L679.1,358.6 L679.4,358.8 L679.5,359 L679.6,359.2 L679.8,359.5 L679.8,359.9 L679.8,360.2 L679.8,360.7 L679.7,361.1 L679.6,361.6 L679.5,362.1 L679.3,362.6 L679.1,363 L678.9,363.5 L678.7,364 L678.4,364.4 L678.1,364.8 L677.8,365.1 L677.5,365.4 L677.2,365.6 L676.9,365.8 L676.6,365.9 L676.3,366 L676.1,366 L675.9,365.9 L664.5,360.9 L664.4,360.7 L664.2,360.5 L664,360.3 L664,360 L663.9,359.6 Z" fill="#fff" stroke="#2a2a2a" stroke-width="1.21" />
<ellipse cx="677.5" cy="362.3" rx="1.8" ry="4" transform="rotate(24.3 677.5 362.3)" fill="#fff" stroke="#2a2a2a" stroke-width="1.21" />
<path d="M667.5,361.9 L671.2,355.6" fill="none" stroke="#666" stroke-width="0.99" />
<path d="M668.8,362.4 L672.4,356.2" fill="none" stroke="#666" stroke-width="0.99" />
<path d="M670.1,363 L673.7,356.7" fill="none" stroke="#666" stroke-width="0.99" />
<path d="M671.4,363.6 L675,357.3" fill="none" stroke="#666" stroke-width="0.99" />
<path d="M672.6,364.1 L676.3,357.9" fill="none" stroke="#666" stroke-width="0.99" />
<ellipse cx="677.5" cy="362.3" rx="1.8" ry="4" transform="rotate(24 677.5 362.3)" fill="#fff" stroke="#2a2a2a" stroke-width="1.21" />
<path d="M690,338.5 L690,347" fill="none" stroke="#2a2a2a" stroke-width="1.87" />
<path d="M669.5,354 L685,353.5" fill="none" stroke="#2a2a2a" stroke-width="1.87" />
</g>
<!-- 31_sensor.svg -->
<g stroke-linejoin="round" stroke-linecap="round">
<path d="M840.5,287.6 C848,282 854,279.5 860.9,276.6 C872,270 880,262 888.9,255.8" fill="none" stroke="#2a2a2a" stroke-width="1.43" />
<path d="M842.2,293.5 C850,289 858,285 864,281.5 C875,274 882,267 890.2,260.4" fill="none" stroke="#2a2a2a" stroke-width="1.43" />
<path d="M825.3,276.6 C828,275 832,276 834.6,280.8 L840.5,287.6 C843,289 843.5,292 842.2,293.5 L831.2,291 L827,287.6 Z" fill="#fff" stroke="#2a2a2a" stroke-width="1.43" />
<ellipse cx="829.5" cy="279.1" rx="1.8" ry="2.3" transform="rotate(20 829.5 279.1)" fill="none" stroke="#2a2a2a" stroke-width="1.10" />
<path d="M817.9,286.8 L818,286.4 L818,286 L818.1,285.7 L818.2,285.4 L818.3,285.1 L818.5,284.9 L818.7,284.8 L818.9,284.7 L826.1,282.7 L826.3,282.7 L826.5,282.7 L826.8,282.8 L827,282.9 L827.3,283.1 L827.5,283.4 L827.8,283.6 L828,284 L828.2,284.3 L828.4,284.7 L828.5,285.1 L828.6,285.6 L828.7,286 L828.8,286.4 L828.9,286.8 L828.9,287.2 L828.9,287.6 L828.8,288 L828.7,288.3 L828.6,288.6 L828.5,288.9 L828.3,289.1 L828.1,289.2 L827.9,289.3 L820.7,291.3 L820.5,291.3 L820.3,291.3 L820,291.2 L819.8,291.1 L819.5,290.9 L819.3,290.6 L819,290.4 L818.8,290 L818.6,289.7 L818.5,289.3 L818.3,288.9 L818.2,288.4 L818.1,288 L818,287.6 L817.9,287.2 Z" fill="#fff" stroke="#2a2a2a" stroke-width="1.32" />
<ellipse cx="819.8" cy="288" rx="1.7" ry="3.4" transform="rotate(164.5 819.8 288)" fill="#fff" stroke="#2a2a2a" stroke-width="1.32" />
<path d="M889.7,252 L895.7,246 L906.7,245.2 L911.8,249.4 L910.1,257 L899,261.3 L890.6,259.6 Z" fill="#fff" stroke="#2a2a2a" stroke-width="1.43" />
<path d="M895.7,246 L900,252 L911.8,249.4 M900,252 L899,261.3" fill="none" stroke="#2a2a2a" stroke-width="0.99" />
<path d="M910,254.5 L917.7,247.7 M909,251 L916.5,245.5" fill="none" stroke="#2a2a2a" stroke-width="1.10" />
</g>
<!-- 40_starter.svg -->
<g stroke-linejoin="round" stroke-linecap="round">
<path d="M296.9,455.5 C302,449 309,445.5 316.6,445.7 L411.3,489.5 C420,495 424,505 422,515 L418,552 L372,561 L357.6,547.4 L291.2,516.3 L287,519 L275.7,510.7 L284.1,482.4 L291,484 C291.5,472 293,462 296.9,455.5 Z" fill="#fff" stroke="#2a2a2a" stroke-width="1.43" />
<path d="M296.9,455.5 C290,462 286,474 287.5,486" fill="none" stroke="#2a2a2a" stroke-width="1.10" />
<path d="M300,452 C293,460 290,470 291,484" fill="none" stroke="#2a2a2a" stroke-width="0.88" />
<path d="M276,470 L276,469.4 L276.1,468.8 L276.3,468.2 L276.5,467.5 L276.8,466.9 L277.1,466.2 L277.4,465.6 L277.8,465 L278.2,464.4 L278.7,464 L279.1,463.5 L279.6,463.1 L280.1,462.9 L280.5,462.6 L280.9,462.5 L281.4,462.5 L281.7,462.5 L282.1,462.6 L290.6,467.1 L290.9,467.4 L291.1,467.6 L291.3,468 L291.4,468.4 L291.5,468.9 L291.5,469.5 L291.5,470.1 L291.4,470.7 L291.2,471.3 L291,472 L290.8,472.6 L290.4,473.3 L290.1,473.9 L289.7,474.5 L289.3,475.1 L288.8,475.5 L288.4,476 L287.9,476.4 L287.4,476.6 L287,476.9 L286.6,477 L286.1,477 L285.8,477 L285.4,476.9 L276.9,472.4 L276.6,472.1 L276.4,471.9 L276.2,471.5 L276.1,471.1 L276,470.6 Z" fill="#fff" stroke="#2a2a2a" stroke-width="1.32" />
<ellipse cx="279.5" cy="467.5" rx="2.8" ry="5.5" transform="rotate(-152.1 279.5 467.5)" fill="#fff" stroke="#2a2a2a" stroke-width="1.32" />
<path d="M284.1,482.4 L294,486.6 L289.8,513.5 L275.7,510.7 Z" fill="#fff" stroke="#2a2a2a" stroke-width="1.32" />
<path d="M294,486.6 L296,489 L292,514" fill="none" stroke="#2a2a2a" stroke-width="0.99" />
<path d="M291.2,516.3 L357.6,547.4" fill="none" stroke="#2a2a2a" stroke-width="1.32" />
<path d="M288,521 L355,552" fill="none" stroke="#2a2a2a" stroke-width="1.10" />
<path d="M292,512 L360,543.5" fill="none" stroke="#2a2a2a" stroke-width="0.88" />
<ellipse cx="397" cy="527" rx="25" ry="38.5" transform="rotate(22 397 527)" fill="#fff" stroke="#2a2a2a" stroke-width="1.43" />
<ellipse cx="400" cy="528" rx="21" ry="34" transform="rotate(22 400 528)" fill="none" stroke="#2a2a2a" stroke-width="0.99" />
<path d="M352.7,549.7 L352.7,549.3 L352.8,548.9 L352.9,548.5 L353,548.1 L353.2,547.6 L353.4,547.2 L353.6,546.8 L353.9,546.4 L354.1,546 L354.4,545.7 L354.7,545.4 L355,545.1 L355.3,545 L355.6,544.8 L355.9,544.7 L356.1,544.7 L356.4,544.7 L356.6,544.8 L370.6,551.8 L370.8,551.9 L371,552.1 L371.1,552.3 L371.2,552.6 L371.3,552.9 L371.3,553.3 L371.3,553.7 L371.2,554.1 L371.1,554.5 L371,554.9 L370.8,555.4 L370.6,555.8 L370.4,556.2 L370.1,556.6 L369.9,557 L369.6,557.3 L369.3,557.6 L369,557.9 L368.7,558 L368.4,558.2 L368.1,558.3 L367.9,558.3 L367.6,558.3 L367.4,558.2 L353.4,551.2 L353.2,551.1 L353,550.9 L352.9,550.7 L352.8,550.4 L352.7,550.1 Z" fill="#fff" stroke="#2a2a2a" stroke-width="1.21" />
<ellipse cx="369" cy="555" rx="1.8" ry="3.6" transform="rotate(26.6 369 555)" fill="#fff" stroke="#2a2a2a" stroke-width="1.21" />
<path d="M357.5,541.5 L366,545 L368,552" fill="none" stroke="#2a2a2a" stroke-width="1.10" />
<path d="M420.8,502.5 L420.8,502.1 L420.9,501.6 L421,501 L421.2,500.5 L421.4,499.9 L421.6,499.3 L421.9,498.8 L422.3,498.2 L422.6,497.8 L423,497.3 L423.4,496.9 L423.8,496.5 L424.3,496.2 L424.7,496 L425.1,495.8 L425.5,495.7 L425.8,495.7 L426.1,495.7 L426.4,495.9 L434.9,500.9 L435.2,501.1 L435.4,501.3 L435.5,501.6 L435.6,502 L435.7,502.5 L435.7,502.9 L435.6,503.4 L435.5,504 L435.3,504.5 L435.1,505.1 L434.9,505.7 L434.6,506.2 L434.2,506.8 L433.9,507.2 L433.5,507.7 L433.1,508.1 L432.7,508.5 L432.2,508.8 L431.8,509 L431.4,509.2 L431,509.3 L430.7,509.3 L430.4,509.3 L430.1,509.1 L421.6,504.1 L421.3,503.9 L421.1,503.7 L421,503.4 L420.9,503 Z" fill="#fff" stroke="#2a2a2a" stroke-width="1.32" />
<ellipse cx="432.5" cy="505" rx="2.4" ry="4.8" transform="rotate(30.5 432.5 505)" fill="#fff" stroke="#2a2a2a" stroke-width="1.32" />
<path d="M420,494 L424,491.5 L432,496" fill="none" stroke="#2a2a2a" stroke-width="0.99" />
<path d="M397.3,534.9 L397.3,534 L397.5,533.1 L397.7,532.1 L398,531.1 L398.4,530 L398.9,529 L399.5,528 L400.1,527 L400.8,526 L401.5,525.1 L402.2,524.4 L403,523.6 L403.7,523.1 L404.5,522.6 L405.2,522.2 L405.9,522 L406.5,522 L407,522 L407.5,522.2 L413.5,525.7 L413.9,526.1 L414.3,526.5 L414.5,527.1 L414.7,527.8 L414.7,528.6 L414.7,529.5 L414.5,530.4 L414.3,531.4 L414,532.4 L413.6,533.5 L413.1,534.5 L412.5,535.5 L411.9,536.5 L411.2,537.5 L410.5,538.4 L409.8,539.1 L409,539.9 L408.3,540.4 L407.5,540.9 L406.8,541.2 L406.1,541.5 L405.5,541.5 L405,541.5 L404.5,541.3 L398.5,537.8 L398.1,537.4 L397.7,537 L397.5,536.4 L397.3,535.7 Z" fill="#fff" stroke="#2a2a2a" stroke-width="1.32" />
<ellipse cx="409" cy="533.5" rx="4" ry="9" transform="rotate(30.3 409 533.5)" fill="#fff" stroke="#2a2a2a" stroke-width="1.32" />
<ellipse cx="408" cy="532.5" rx="6.5" ry="10" transform="rotate(22 408 532.5)" fill="none" stroke="#2a2a2a" stroke-width="0.88" />
<path d="M414.2,514.9 L422.6,509.3 L447,520.5 C452,523 454,529 452.3,531.9 L446.7,539 C443,540 441,539 439.6,537.5 L414.2,524.8 Z" fill="#fff" stroke="#2a2a2a" stroke-width="1.43" />
<path d="M414.2,514.9 L441,528 C445,530 446,535 446.7,539" fill="none" stroke="#2a2a2a" stroke-width="1.10" />
<ellipse cx="443.3" cy="525.5" rx="2.6" ry="1.8" transform="rotate(15 443.3 525.5)" fill="none" stroke="#2a2a2a" stroke-width="1.21" />
<path d="M381.7,538.9 L390.1,536.1 L414,548 C418,550 419.5,556 418.4,561.6 L411.3,564.4 C408,564.5 406.5,564 405.7,563.7 L381.7,551.7 Z" fill="#fff" stroke="#2a2a2a" stroke-width="1.43" />
<path d="M381.7,538.9 L406,550.5 C410,553 411,558 411.3,564.4" fill="none" stroke="#2a2a2a" stroke-width="1.10" />
<ellipse cx="410.5" cy="552.4" rx="2.6" ry="1.8" transform="rotate(15 410.5 552.4)" fill="none" stroke="#2a2a2a" stroke-width="1.21" />
<ellipse cx="371.5" cy="494.5" rx="9.2" ry="6" transform="rotate(12 371.5 494.5)" fill="#fff" stroke="#2a2a2a" stroke-width="1.32" />
<ellipse cx="371.5" cy="492.5" rx="8" ry="5" transform="rotate(12 371.5 492.5)" fill="none" stroke="#2a2a2a" stroke-width="0.88" />
<path d="M365,493.1 L366.9,487.6" fill="none" stroke="#444" stroke-width="1.10" />
<path d="M366.6,493.5 L368.5,488" fill="none" stroke="#444" stroke-width="1.10" />
<path d="M368.1,493.8 L370.1,488.3" fill="none" stroke="#444" stroke-width="1.10" />
<path d="M369.7,494.1 L371.6,488.6" fill="none" stroke="#444" stroke-width="1.10" />
<path d="M371.3,494.4 L373.2,488.9" fill="none" stroke="#444" stroke-width="1.10" />
<path d="M372.8,494.7 L374.8,489.2" fill="none" stroke="#444" stroke-width="1.10" />
<path d="M374.4,495 L376.3,489.5" fill="none" stroke="#444" stroke-width="1.10" />
<path d="M376,495.3 L377.9,489.8" fill="none" stroke="#444" stroke-width="1.10" />
<path d="M362.1,482 L362.2,481.5 L362.4,481.1 L362.7,480.6 L363.1,480.1 L363.6,479.6 L364.2,479.2 L364.9,478.8 L365.7,478.4 L366.5,478.1 L367.4,477.8 L368.3,477.6 L369.2,477.4 L370.1,477.3 L370.9,477.3 L371.8,477.3 L372.6,477.4 L373.3,477.5 L374,477.8 L374.6,478 L375,478.3 L375.4,478.7 L375.7,479.1 L375.8,479.5 L377.3,486.5 L377.4,487 L377.3,487.5 L377.1,487.9 L376.8,488.4 L376.4,488.9 L375.9,489.4 L375.2,489.8 L374.6,490.2 L373.8,490.6 L373,490.9 L372.1,491.2 L371.2,491.4 L370.3,491.6 L369.4,491.7 L368.6,491.7 L367.7,491.7 L366.9,491.6 L366.2,491.5 L365.5,491.2 L364.9,491 L364.5,490.7 L364.1,490.3 L363.8,489.9 L363.7,489.5 L362.2,482.5 Z" fill="#fff" stroke="#2a2a2a" stroke-width="1.32" />
<path d="M361.5,481 L365,476 L372.5,475.5 L376.5,480 L373.5,485.5 L365.5,486 Z" fill="#fff" stroke="#2a2a2a" stroke-width="1.32" />
<path d="M361.5,481 L365.5,482.5 L373,482 L376.5,480 M365.5,482.5 L365.5,486 M373,482 L373.5,485.5" fill="none" stroke="#2a2a2a" stroke-width="0.99" />
<ellipse cx="369" cy="478.5" rx="3" ry="2" transform="rotate(0 369 478.5)" fill="none" stroke="#2a2a2a" stroke-width="0.99" />
<ellipse cx="259.8" cy="452.6" rx="8" ry="10.5" transform="rotate(20 259.8 452.6)" fill="none" stroke="#2a2a2a" stroke-width="1.54" />
<ellipse cx="259.8" cy="452.6" rx="6.6" ry="9" transform="rotate(20 259.8 452.6)" fill="none" stroke="#2a2a2a" stroke-width="0.88" />
<path d="M371.4,434.3 L371.5,434.1 L371.6,434 L371.7,433.8 L371.9,433.6 L372.1,433.4 L372.4,433.3 L372.7,433.1 L373,433 L373.4,432.9 L373.7,432.8 L374.1,432.7 L374.4,432.7 L374.8,432.6 L375.2,432.6 L375.5,432.6 L375.9,432.7 L376.2,432.7 L376.4,432.8 L376.7,432.9 L376.9,433.1 L377,433.2 L377.1,433.3 L377.2,433.5 L380.4,452 L380.4,452.2 L380.3,452.4 L380.2,452.5 L380.1,452.7 L379.9,452.9 L379.7,453.1 L379.4,453.2 L379.1,453.4 L378.8,453.5 L378.4,453.6 L378.1,453.7 L377.7,453.8 L377.4,453.8 L377,453.9 L376.6,453.9 L376.3,453.9 L375.9,453.8 L375.6,453.8 L375.4,453.7 L375.1,453.6 L374.9,453.4 L374.8,453.3 L374.7,453.2 L374.6,453 L371.4,434.5 Z" fill="#fff" stroke="#2a2a2a" stroke-width="1.32" />
<ellipse cx="377.5" cy="452.5" rx="1.3" ry="2.9" transform="rotate(80.2 377.5 452.5)" fill="#fff" stroke="#2a2a2a" stroke-width="1.32" />
<path d="M373.6,445.4 L378.9,445.3" fill="none" stroke="#222" stroke-width="1.21" />
<path d="M373.8,446.8 L379.1,446.7" fill="none" stroke="#222" stroke-width="1.21" />
<path d="M374.1,448.2 L379.4,448" fill="none" stroke="#222" stroke-width="1.21" />
<path d="M374.3,449.5 L379.6,449.4" fill="none" stroke="#222" stroke-width="1.21" />
<path d="M374.6,450.9 L379.8,450.8" fill="none" stroke="#222" stroke-width="1.21" />
<ellipse cx="373.8" cy="433.2" rx="6.2" ry="2.6" transform="rotate(8 373.8 433.2)" fill="#fff" stroke="#2a2a2a" stroke-width="1.32" />
<path d="M367.7,432.0 l0,-5 l3,-2.5 l6,0.5 l2.8,3 l0,5 l-3,2.5 l-6,-0.5 Z" fill="#fff" stroke="#2a2a2a" stroke-width="1.32" />
<path d="M367.7,427.0 l3,-2.5 l6,0.5 l2.8,3 l-3,2.5 l-6,-0.5 Z" fill="#fff" stroke="#2a2a2a" stroke-width="1.21" />
<path d="M370.7,424.5 v5 M376.5,425.0 v5" fill="none" stroke="#2a2a2a" stroke-width="0.99" />
<path d="M439.9,470.2 L440,470.1 L440.1,469.9 L440.2,469.7 L440.4,469.6 L440.6,469.4 L440.9,469.2 L441.2,469.1 L441.5,469 L441.9,468.9 L442.2,468.8 L442.6,468.7 L443,468.7 L443.4,468.6 L443.7,468.6 L444.1,468.7 L444.4,468.7 L444.7,468.8 L445,468.9 L445.2,469 L445.4,469.1 L445.5,469.3 L445.6,469.4 L445.7,469.6 L448.4,488.1 L448.4,488.2 L448.3,488.4 L448.2,488.6 L448.1,488.8 L447.9,488.9 L447.7,489.1 L447.4,489.3 L447.1,489.4 L446.8,489.5 L446.4,489.6 L446.1,489.7 L445.7,489.8 L445.3,489.8 L444.9,489.9 L444.6,489.9 L444.2,489.8 L443.9,489.8 L443.6,489.7 L443.3,489.6 L443.1,489.5 L442.9,489.4 L442.8,489.2 L442.7,489.1 L442.6,488.9 L439.9,470.4 Z" fill="#fff" stroke="#2a2a2a" stroke-width="1.32" />
<ellipse cx="445.5" cy="488.5" rx="1.3" ry="2.9" transform="rotate(81.7 445.5 488.5)" fill="#fff" stroke="#2a2a2a" stroke-width="1.32" />
<path d="M441.7,481.4 L447,481.3" fill="none" stroke="#222" stroke-width="1.21" />
<path d="M442,482.7 L447.2,482.7" fill="none" stroke="#222" stroke-width="1.21" />
<path d="M442.2,484.1 L447.5,484.1" fill="none" stroke="#222" stroke-width="1.21" />
<path d="M442.4,485.5 L447.7,485.5" fill="none" stroke="#222" stroke-width="1.21" />
<path d="M442.6,486.9 L447.9,486.9" fill="none" stroke="#222" stroke-width="1.21" />
<ellipse cx="442.3" cy="469.2" rx="6.2" ry="2.6" transform="rotate(8 442.3 469.2)" fill="#fff" stroke="#2a2a2a" stroke-width="1.32" />
<path d="M436.2,468.0 l0,-5 l3,-2.5 l6,0.5 l2.8,3 l0,5 l-3,2.5 l-6,-0.5 Z" fill="#fff" stroke="#2a2a2a" stroke-width="1.32" />
<path d="M436.2,463.0 l3,-2.5 l6,0.5 l2.8,3 l-3,2.5 l-6,-0.5 Z" fill="#fff" stroke="#2a2a2a" stroke-width="1.21" />
<path d="M439.2,460.5 v5 M445.0,461.0 v5" fill="none" stroke="#2a2a2a" stroke-width="0.99" />
</g>
<!-- 41_cable.svg -->
<g stroke-linejoin="round" stroke-linecap="round">
<path d="M568,497 C573,504 575,510 574,520 C573,530 568,545 556,553 C545,559 520,559 483,563 C455,567 425,578 405,596 C390,612 386,635 392,652 C398,670 415,681 433,680 C450,678 465,670 480,656 C492,645 502,632 511,620" fill="none" stroke="#2a2a2a" stroke-width="11.00" stroke-linecap="butt"/>
<path d="M568,497 C573,504 575,510 574,520 C573,530 568,545 556,553 C545,559 520,559 483,563 C455,567 425,578 405,596 C390,612 386,635 392,652 C398,670 415,681 433,680 C450,678 465,670 480,656 C492,645 502,632 511,620" fill="none" stroke="#fff" stroke-width="8.14" stroke-linecap="butt"/>
<path d="M547.5,475 L560,472.5 L563.75,483.75 L551.25,485 Z" fill="#fff" stroke="#2a2a2a" stroke-width="1.43" />
<ellipse cx="555" cy="478.5" rx="2" ry="1.6" transform="rotate(0 555 478.5)" fill="#777" stroke="#2a2a2a" stroke-width="1.10" />
<path d="M558.3,487.7 L558.3,487.4 L558.4,487 L558.5,486.7 L558.7,486.3 L559,485.9 L559.3,485.6 L559.6,485.2 L560,484.9 L560.4,484.5 L560.9,484.2 L561.4,483.9 L561.9,483.7 L562.3,483.5 L562.8,483.3 L563.3,483.2 L563.7,483.2 L564.1,483.1 L564.5,483.2 L564.9,483.3 L565.1,483.4 L565.4,483.6 L565.6,483.8 L573.1,495.8 L573.2,496 L573.2,496.3 L573.2,496.6 L573.1,497 L573,497.3 L572.8,497.7 L572.5,498.1 L572.2,498.4 L571.9,498.8 L571.5,499.1 L571.1,499.5 L570.6,499.8 L570.1,500.1 L569.6,500.3 L569.2,500.5 L568.7,500.7 L568.2,500.8 L567.8,500.8 L567.4,500.9 L567,500.8 L566.6,500.7 L566.4,500.6 L566.1,500.4 L565.9,500.2 L558.4,488.2 L558.3,488 Z" fill="#fff" stroke="#2a2a2a" stroke-width="1.32" />
<ellipse cx="569.5" cy="498" rx="2.1" ry="4.2" transform="rotate(58 569.5 498)" fill="#fff" stroke="#2a2a2a" stroke-width="1.32" />
<path d="M563.5,489 L570,486 M566,494 L572,491" fill="none" stroke="#2a2a2a" stroke-width="0.99" />
<path d="M569.0,463.0 C570.2,461.2 572.8,458.7 575.0,457.5 C577.2,456.3 579.7,455.6 582.0,455.8 C584.3,456.0 587.2,456.6 589.0,458.5 C590.8,460.4 592.0,463.9 593.0,467.0 C594.0,470.1 594.6,474.1 594.8,477.0 C595.0,479.9 594.9,482.9 594.0,484.5 C593.1,486.1 590.9,486.3 589.5,486.3 C588.1,486.3 586.6,486.1 585.8,484.5 C585.0,482.9 585.2,478.8 584.5,477.0 C583.8,475.2 582.8,473.9 581.5,473.8 C580.2,473.7 578.3,476.5 576.5,476.5 C574.7,476.5 571.9,475.4 570.5,474.0 C569.1,472.6 568.2,469.8 568.0,468.0 C567.8,466.2 567.8,464.8 569.0,463.0 Z" fill="#fff" stroke="#2a2a2a" stroke-width="1.32" />
<path d="M574.5,459.5 C576,465 582,469 592,468.5" fill="none" stroke="#2a2a2a" stroke-width="1.10" />
<path d="M507.5,585 L517,584 L522,591 L511,608 L497,619 C493,620 488,618 487.5,615 L490,608 L500,602 Z" fill="#fff" stroke="#2a2a2a" stroke-width="1.43" />
<path d="M500,602 L507,593 L517,584 M490,608 L497,611 L500,602 M497,611 L497,619" fill="none" stroke="#2a2a2a" stroke-width="1.10" />
<path d="M511,620 L516,612 L529,607.5 C532,608 532.5,612 531,614 L518,624 L513,624 Z" fill="#fff" stroke="#2a2a2a" stroke-width="1.43" />
<ellipse cx="525.5" cy="612" rx="1.6" ry="1.6" transform="rotate(0 525.5 612)" fill="#555" stroke="#2a2a2a" stroke-width="1.10" />
</g>
<!-- 50_pump.svg -->
<g stroke-linejoin="round" stroke-linecap="round">
<path d="M1076.8,648.6 L1042.3,707 L1057,714.5" fill="none" stroke="#2a2a2a" stroke-width="1.10" />
<path d="M968,786.5 L978.7,790.5 L1018.5,754.7 L1030.4,758.6" fill="none" stroke="#2a2a2a" stroke-width="1.10" />
<path d="M1052.5,635 L1066.6,642.5 L1066.7,644.7 L1064.8,645.9 L1050.7,638.4 Z" fill="#fff" stroke="#2a2a2a" stroke-width="1.21" />
<path d="M1056.9,637.4 L1056.2,641.3" fill="none" stroke="#2a2a2a" stroke-width="0.88" />
<path d="M1058.8,638.4 L1058.1,642.3" fill="none" stroke="#2a2a2a" stroke-width="0.88" />
<path d="M1060.8,639.4 L1060.1,643.4" fill="none" stroke="#2a2a2a" stroke-width="0.88" />
<path d="M1062.7,640.5 L1062,644.4" fill="none" stroke="#2a2a2a" stroke-width="0.88" />
<path d="M1064.7,641.5 L1064,645.4" fill="none" stroke="#2a2a2a" stroke-width="0.88" />
<ellipse cx="1050.3" cy="636" rx="2.2" ry="4.6" transform="rotate(28 1050.3 636)" fill="#fff" stroke="#2a2a2a" stroke-width="1.21" />
<ellipse cx="1052.3" cy="637.1" rx="2.2" ry="4.6" transform="rotate(28 1052.3 637.1)" fill="#fff" stroke="#2a2a2a" stroke-width="1.21" />
<path d="M947.4,774.8 L962.4,782.8 L962.5,785 L960.6,786.2 L945.6,778.2 Z" fill="#fff" stroke="#2a2a2a" stroke-width="1.21" />
<path d="M952,777.3 L951.3,781.2" fill="none" stroke="#2a2a2a" stroke-width="0.88" />
<path d="M954,778.3 L953.2,782.2" fill="none" stroke="#2a2a2a" stroke-width="0.88" />
<path d="M955.9,779.4 L955.2,783.3" fill="none" stroke="#2a2a2a" stroke-width="0.88" />
<path d="M957.9,780.4 L957.1,784.3" fill="none" stroke="#2a2a2a" stroke-width="0.88" />
<path d="M959.8,781.4 L959.1,785.3" fill="none" stroke="#2a2a2a" stroke-width="0.88" />
<ellipse cx="945.2" cy="775.8" rx="2.2" ry="4.6" transform="rotate(28 945.2 775.8)" fill="#fff" stroke="#2a2a2a" stroke-width="1.21" />
<ellipse cx="947.2" cy="776.9" rx="2.2" ry="4.6" transform="rotate(28 947.2 776.9)" fill="#fff" stroke="#2a2a2a" stroke-width="1.21" />
<path d="M946.5,661.8 L960.6,669.3 L960.7,671.5 L958.8,672.7 L944.7,665.2 Z" fill="#fff" stroke="#2a2a2a" stroke-width="1.21" />
<path d="M950.9,664.2 L950.2,668.1" fill="none" stroke="#2a2a2a" stroke-width="0.88" />
<path d="M952.8,665.2 L952.1,669.1" fill="none" stroke="#2a2a2a" stroke-width="0.88" />
<path d="M954.8,666.2 L954.1,670.2" fill="none" stroke="#2a2a2a" stroke-width="0.88" />
<path d="M956.7,667.3 L956,671.2" fill="none" stroke="#2a2a2a" stroke-width="0.88" />
<path d="M958.7,668.3 L958,672.2" fill="none" stroke="#2a2a2a" stroke-width="0.88" />
<ellipse cx="944.3" cy="662.8" rx="2.2" ry="4.6" transform="rotate(28 944.3 662.8)" fill="#fff" stroke="#2a2a2a" stroke-width="1.21" />
<ellipse cx="946.3" cy="663.9" rx="2.2" ry="4.6" transform="rotate(28 946.3 663.9)" fill="#fff" stroke="#2a2a2a" stroke-width="1.21" />
<path d="M911,669.8 L917,668 L923,676 L922,684 L915,683 L910,675 Z" fill="#fff" stroke="#2a2a2a" stroke-width="1.32" />
<path d="M916.1,682.4 L916.2,681.8 L916.3,681 L916.5,680.2 L916.8,679.4 L917.2,678.6 L917.6,677.8 L918.1,677.1 L918.6,676.3 L919.2,675.6 L919.8,675 L920.4,674.4 L921,673.9 L921.7,673.5 L922.3,673.2 L922.9,673 L923.5,672.9 L924,672.9 L924.5,673 L924.9,673.2 L936.9,681.2 L937.2,681.5 L937.5,681.9 L937.7,682.4 L937.8,682.9 L937.9,683.6 L937.8,684.2 L937.7,685 L937.5,685.8 L937.2,686.6 L936.8,687.4 L936.4,688.2 L935.9,688.9 L935.4,689.7 L934.8,690.4 L934.2,691 L933.6,691.6 L933,692.1 L932.3,692.5 L931.7,692.8 L931.1,693 L930.5,693.1 L930,693.1 L929.5,693 L929.1,692.8 L917.1,684.8 L916.8,684.5 L916.5,684.1 L916.3,683.6 L916.2,683.1 Z" fill="#fff" stroke="#2a2a2a" stroke-width="1.32" />
<ellipse cx="933" cy="687" rx="3.5" ry="7" transform="rotate(33.7 933 687)" fill="#fff" stroke="#2a2a2a" stroke-width="1.32" />
<path d="M925,674 L930,684 L927,691" fill="none" stroke="#2a2a2a" stroke-width="0.88" />
<path d="M930.1,688.9 L930.1,688.4 L930.2,687.8 L930.4,687.2 L930.6,686.6 L930.8,686 L931.1,685.5 L931.4,684.9 L931.7,684.4 L932.1,684 L932.4,683.6 L932.8,683.2 L933.2,682.9 L933.6,682.7 L933.9,682.6 L934.3,682.5 L934.6,682.5 L934.9,682.6 L950.9,689.6 L951.2,689.8 L951.4,690 L951.6,690.3 L951.8,690.7 L951.9,691.1 L951.9,691.6 L951.9,692.1 L951.9,692.6 L951.8,693.2 L951.6,693.8 L951.4,694.4 L951.2,695 L950.9,695.5 L950.6,696.1 L950.3,696.6 L949.9,697 L949.6,697.4 L949.2,697.8 L948.8,698.1 L948.4,698.3 L948.1,698.4 L947.7,698.5 L947.4,698.5 L947.1,698.4 L931.1,691.4 L930.8,691.2 L930.6,691 L930.4,690.7 L930.2,690.3 L930.1,689.9 L930.1,689.4 Z" fill="#fff" stroke="#2a2a2a" stroke-width="1.32" />
<path d="M944.8,694.5 L944.8,694.1 L944.9,693.7 L945,693.3 L945.1,692.9 L945.3,692.5 L945.5,692.1 L945.8,691.8 L946,691.4 L946.3,691.1 L946.6,690.8 L946.9,690.5 L947.2,690.3 L947.5,690.1 L947.8,690 L948,690 L948.3,689.9 L948.5,690 L948.7,690.1 L954.7,693.6 L954.9,693.7 L955,693.9 L955.1,694.1 L955.2,694.4 L955.2,694.7 L955.2,695 L955.2,695.4 L955.1,695.8 L955,696.2 L954.9,696.6 L954.7,697 L954.5,697.4 L954.2,697.7 L954,698.1 L953.7,698.4 L953.4,698.7 L953.1,699 L952.8,699.2 L952.5,699.4 L952.2,699.5 L952,699.5 L951.7,699.6 L951.5,699.5 L951.3,699.4 L945.3,695.9 L945.1,695.8 L945,695.6 L944.9,695.4 L944.8,695.1 L944.8,694.8 Z" fill="#fff" stroke="#2a2a2a" stroke-width="1.32" />
<ellipse cx="953" cy="696.5" rx="1.7" ry="3.4" transform="rotate(30.3 953 696.5)" fill="#fff" stroke="#2a2a2a" stroke-width="1.32" />
<ellipse cx="947" cy="693" rx="2.2" ry="4.8" transform="rotate(25 947 693)" fill="none" stroke="#2a2a2a" stroke-width="0.88" />
<path d="M967.8,720.2 L967.8,718.4 L968,716.5 L968.2,714.6 L968.5,712.7 L968.9,710.8 L969.4,708.8 L970,706.9 L970.6,705 L971.4,703.1 L972.1,701.2 L973,699.4 L973.9,697.6 L974.9,695.9 L976,694.2 L977.1,692.6 L978.2,691.1 L979.5,689.6 L980.7,688.3 L982,687 L983.3,685.8 L984.6,684.8 L985.9,683.8 L987.3,683 L988.6,682.2 L990,681.6 L991.3,681.2 L992.7,680.8 L994,680.6 L995.3,680.4 L996.5,680.5 L997.8,680.6 L999,680.9 L1000.1,681.3 L1011.1,685.3 L1012.2,685.8 L1013.2,686.4 L1014.2,687.2 L1015.2,688 L1016,689 L1016.8,690.1 L1017.5,691.3 L1018.1,692.6 L1018.7,694 L1019.2,695.4 L1019.5,697 L1019.8,698.6 L1020,700.3 L1020.2,702 L1020.2,703.8 L1020.2,705.6 L1020,707.5 L1019.8,709.4 L1019.5,711.3 L1019.1,713.2 L1018.6,715.2 L1018,717.1 L1017.4,719 L1016.6,720.9 L1015.9,722.8 L1015,724.6 L1014.1,726.4 L1013.1,728.1 L1012,729.8 L1010.9,731.4 L1009.8,732.9 L1008.5,734.4 L1007.3,735.7 L1006,737 L1004.7,738.2 L1003.4,739.2 L1002.1,740.2 L1000.7,741 L999.4,741.8 L998,742.4 L996.7,742.8 L995.3,743.2 L994,743.4 L992.7,743.6 L991.5,743.5 L990.2,743.4 L989,743.1 L987.9,742.7 L976.9,738.7 L975.8,738.2 L974.8,737.6 L973.8,736.8 L972.8,736 L972,735 L971.2,733.9 L970.5,732.7 L969.9,731.4 L969.3,730 L968.8,728.6 L968.5,727 L968.2,725.4 L968,723.7 L967.8,722 Z" fill="#fff" stroke="#2a2a2a" stroke-width="1.43" />
<ellipse cx="995.5" cy="712.5" rx="18.5" ry="31" transform="rotate(22 995.5 712.5)" fill="none" stroke="#2a2a2a" stroke-width="1.10" />
<ellipse cx="999.5" cy="714" rx="18.5" ry="31" transform="rotate(22 999.5 714)" fill="#fff" stroke="#2a2a2a" stroke-width="1.43" />
<ellipse cx="998.5" cy="716" rx="9.5" ry="14.5" transform="rotate(22 998.5 716)" fill="none" stroke="#2a2a2a" stroke-width="1.32" />
<ellipse cx="995.5" cy="714.5" rx="6.5" ry="11.5" transform="rotate(22 995.5 714.5)" fill="none" stroke="#2a2a2a" stroke-width="0.99" />
<ellipse cx="1012.5" cy="698" rx="1.9" ry="2.5" transform="rotate(22 1012.5 698)" fill="none" stroke="#2a2a2a" stroke-width="1.10" />
<ellipse cx="1016" cy="701.5" rx="1.9" ry="2.5" transform="rotate(22 1016 701.5)" fill="none" stroke="#2a2a2a" stroke-width="1.10" />
<ellipse cx="987.5" cy="735" rx="1.9" ry="2.5" transform="rotate(22 987.5 735)" fill="none" stroke="#2a2a2a" stroke-width="1.10" />
<ellipse cx="991" cy="738" rx="1.9" ry="2.5" transform="rotate(22 991 738)" fill="none" stroke="#2a2a2a" stroke-width="1.10" />
<ellipse cx="996.2" cy="700" rx="0.9" ry="1.3" transform="rotate(22 996.2 700)" fill="none" stroke="#2a2a2a" stroke-width="1.10" />
<ellipse cx="1000.6" cy="732" rx="1.1" ry="1.4" transform="rotate(22 1000.6 732)" fill="none" stroke="#2a2a2a" stroke-width="1.10" />
<path d="M1033.2,746.0 C1035.1,743.9 1040.5,743.1 1042.8,739.6 C1045.1,736.1 1045.3,728.2 1046.8,725.2 C1048.3,722.2 1049.9,721.9 1051.6,721.6 C1053.3,721.3 1055.5,723.9 1057.2,723.6 C1058.9,723.3 1060.4,720.5 1062.0,719.6 C1063.6,718.7 1064.9,718.0 1066.8,718.4 C1068.7,718.8 1071.7,719.8 1073.2,722.0 C1074.7,724.2 1075.3,728.4 1075.6,731.6 C1075.9,734.8 1076.0,738.5 1074.8,741.2 C1073.6,743.9 1070.4,745.2 1068.4,747.6 C1066.4,750.0 1064.1,752.7 1062.8,755.6 C1061.5,758.5 1061.7,763.2 1060.4,765.2 C1059.1,767.2 1056.7,767.3 1054.8,767.6 C1052.9,767.9 1051.1,766.1 1049.2,766.8 C1047.3,767.5 1045.5,771.1 1043.6,771.6 C1041.7,772.1 1039.9,771.6 1038.0,770.0 C1036.1,768.4 1033.5,764.9 1032.4,762.0 C1031.3,759.1 1031.5,755.1 1031.6,752.4 C1031.7,749.7 1031.3,748.1 1033.2,746.0 Z" fill="#fff" stroke="#2a2a2a" stroke-width="1.32" />
<path d="M1036.0,744.8 C1037.9,742.7 1043.3,741.9 1045.6,738.4 C1047.9,734.9 1048.1,727.0 1049.6,724.0 C1051.1,721.0 1052.7,720.7 1054.4,720.4 C1056.1,720.1 1058.3,722.7 1060.0,722.4 C1061.7,722.1 1063.2,719.3 1064.8,718.4 C1066.4,717.5 1067.7,716.8 1069.6,717.2 C1071.5,717.6 1074.5,718.6 1076.0,720.8 C1077.5,723.0 1078.1,727.2 1078.4,730.4 C1078.7,733.6 1078.8,737.3 1077.6,740.0 C1076.4,742.7 1073.2,744.0 1071.2,746.4 C1069.2,748.8 1066.9,751.5 1065.6,754.4 C1064.3,757.3 1064.5,762.0 1063.2,764.0 C1061.9,766.0 1059.5,766.1 1057.6,766.4 C1055.7,766.7 1053.9,764.9 1052.0,765.6 C1050.1,766.3 1048.3,769.9 1046.4,770.4 C1044.5,770.9 1042.7,770.4 1040.8,768.8 C1038.9,767.2 1036.3,763.7 1035.2,760.8 C1034.1,757.9 1034.3,753.9 1034.4,751.2 C1034.5,748.5 1034.1,746.9 1036.0,744.8 Z" fill="#fff" stroke="#2a2a2a" stroke-width="1.43" />
<ellipse cx="1055.6" cy="728.8" rx="2.4" ry="3.6" transform="rotate(20 1055.6 728.8)" fill="none" stroke="#2a2a2a" stroke-width="1.32" />
<ellipse cx="1071.6" cy="726.8" rx="2.4" ry="3.6" transform="rotate(20 1071.6 726.8)" fill="none" stroke="#2a2a2a" stroke-width="1.32" />
<ellipse cx="1046.8" cy="763.2" rx="2.4" ry="3.6" transform="rotate(20 1046.8 763.2)" fill="none" stroke="#2a2a2a" stroke-width="1.32" />
<ellipse cx="1060.8" cy="761.6" rx="0.9" ry="0.9" transform="rotate(0 1060.8 761.6)" fill="#333" stroke="#2a2a2a" stroke-width="0.88" />
<ellipse cx="1058.4" cy="745.2" rx="2.6" ry="4" transform="rotate(20 1058.4 745.2)" fill="none" stroke="#2a2a2a" stroke-width="1.21" />
<path d="M1052.5,741.5 C1049.5,746 1050,753 1054.5,755.5 L1056.5,754 C1053,751 1052.5,746 1054.5,742.5 Z" fill="none" stroke="#2a2a2a" stroke-width="1.32" />
<path d="M1060,733 C1064.5,735 1066.5,742 1063.5,750.5 L1061.5,750 C1063.5,743 1062.5,737.5 1059.5,735 Z" fill="none" stroke="#2a2a2a" stroke-width="1.32" />
<path d="M1076.1,773.5 L1076.2,771.8 L1076.4,770 L1076.7,768.3 L1077,766.6 L1077.5,764.9 L1078.1,763.2 L1078.7,761.5 L1079.4,759.8 L1080.2,758.2 L1081.1,756.7 L1082,755.1 L1083.1,753.7 L1084.1,752.3 L1085.3,751 L1086.5,749.7 L1087.7,748.5 L1089,747.5 L1090.3,746.5 L1091.7,745.5 L1093.1,744.8 L1094.5,744 L1095.9,743.5 L1097.3,743 L1098.8,742.6 L1100.2,742.3 L1101.6,742.2 L1103,742.1 L1104.4,742.2 L1105.8,742.4 L1107.1,742.7 L1108.4,743.1 L1109.6,743.6 L1122.6,749.1 L1123.8,749.7 L1125,750.4 L1126,751.2 L1127,752.2 L1128,753.2 L1128.8,754.3 L1129.6,755.5 L1130.3,756.8 L1131,758.1 L1131.5,759.5 L1132,761 L1132.4,762.5 L1132.6,764.1 L1132.8,765.7 L1132.9,767.4 L1132.9,769 L1132.8,770.8 L1132.6,772.5 L1132.3,774.2 L1132,775.9 L1131.5,777.6 L1130.9,779.3 L1130.3,781 L1129.6,782.7 L1128.8,784.3 L1127.9,785.8 L1127,787.4 L1125.9,788.8 L1124.9,790.2 L1123.7,791.5 L1122.5,792.8 L1121.3,794 L1120,795 L1118.7,796 L1117.3,797 L1115.9,797.8 L1114.5,798.5 L1113.1,799 L1111.7,799.5 L1110.2,799.9 L1108.8,800.2 L1107.4,800.3 L1106,800.4 L1104.6,800.3 L1103.2,800.1 L1101.9,799.8 L1100.6,799.4 L1099.4,798.9 L1086.4,793.4 L1085.2,792.8 L1084,792.1 L1083,791.2 L1082,790.3 L1081,789.3 L1080.2,788.2 L1079.4,787 L1078.7,785.8 L1078,784.4 L1077.5,783 L1077,781.5 L1076.6,780 L1076.4,778.4 L1076.2,776.8 L1076.1,775.1 Z" fill="#fff" stroke="#2a2a2a" stroke-width="1.43" />
<ellipse cx="1111" cy="774" rx="20.5" ry="27.5" transform="rotate(25 1111 774)" fill="#fff" stroke="#2a2a2a" stroke-width="1.43" />
<path d="M1120.8,784 L1120,784.8 L1119,785.3 L1117.7,785.2 L1116.4,784.9 L1115.6,785 L1114.9,785.4 L1114.4,786.1 L1113.9,787.1 L1113.5,788.8 L1113,790.6 L1112.3,791.6 L1111.5,792.2 L1110.6,792.3 L1109.7,792 L1109,790.8 L1108.4,789.5 L1107.8,788.9 L1107.2,788.7 L1106.5,788.9 L1105.6,789.5 L1104.5,790.8 L1103.3,792 L1102.3,792.3 L1101.4,792.2 L1100.8,791.6 L1100.5,790.6 L1100.7,788.8 L1101.1,787.1 L1101,786.1 L1100.8,785.4 L1100.2,785 L1099.4,784.9 L1098.1,785.2 L1096.7,785.3 L1095.9,784.8 L1095.4,784 L1095.4,783 L1095.8,781.7 L1096.8,780.3 L1097.9,779 L1098.5,778 L1098.7,777.1 L1098.6,776.4 L1098.2,775.6 L1097.2,774.7 L1096.3,773.7 L1096.1,772.6 L1096.2,771.5 L1096.8,770.5 L1097.7,769.6 L1099.1,769.1 L1100.5,768.8 L1101.3,768.3 L1101.9,767.7 L1102.3,766.9 L1102.4,765.8 L1102.3,764.2 L1102.3,762.5 L1102.8,761.3 L1103.5,760.4 L1104.4,759.9 L1105.3,759.9 L1106.5,760.6 L1107.4,761.4 L1108.2,761.7 L1108.9,761.6 L1109.6,761.1 L1110.2,760.2 L1111,758.6 L1112,757.1 L1112.9,756.3 L1113.8,756.1 L1114.6,756.3 L1115.2,757.1 L1115.5,758.6 L1115.6,760.2 L1116,761.1 L1116.4,761.6 L1117.1,761.7 L1117.9,761.4 L1119.3,760.6 L1120.7,759.9 L1121.6,759.9 L1122.3,760.4 L1122.6,761.3 L1122.6,762.5 L1121.9,764.2 L1121.2,765.8 L1120.9,766.9 L1120.9,767.7 L1121.3,768.3 L1121.9,768.8 L1123.2,769.1 L1124.4,769.6 L1124.9,770.4 L1125.1,771.5 L1124.8,772.6 L1124.1,773.7 L1122.8,774.7 L1121.5,775.6 L1120.8,776.3 L1120.3,777.1 L1120.2,778 L1120.3,779 L1120.9,780.3 L1121.4,781.7 L1121.3,783 L1120.8,784 Z" fill="#fff" stroke="#2a2a2a" stroke-width="1.32" />
<path d="M1116.6,783.7 L1111.6,781.7" fill="none" stroke="#2a2a2a" stroke-width="0.88" />
<path d="M1109.1,788.5 L1104.1,786.5" fill="none" stroke="#2a2a2a" stroke-width="0.88" />
<path d="M1120.2,765.7 L1115.2,763.7" fill="none" stroke="#2a2a2a" stroke-width="0.88" />
<path d="M1121,774.7 L1116,772.7" fill="none" stroke="#2a2a2a" stroke-width="0.88" />
<path d="M1162.1,794.1 L1161.5,795.2 L1160.6,796 L1159.1,796.3 L1157.6,796.5 L1156.8,796.9 L1156.1,797.5 L1155.6,798.3 L1155.3,799.3 L1155.3,801 L1155.1,802.8 L1154.5,803.9 L1153.6,804.6 L1152.6,804.9 L1151.5,804.9 L1150.4,803.9 L1149.4,802.8 L1148.5,802.4 L1147.8,802.4 L1147,802.6 L1146.2,803.1 L1145.1,804.5 L1143.9,805.7 L1142.8,806 L1141.8,805.9 L1141,805.4 L1140.4,804.4 L1140.3,802.7 L1140.3,801 L1140,800.1 L1139.6,799.4 L1138.9,798.9 L1138.1,798.7 L1136.6,798.9 L1135.1,798.9 L1134.2,798.2 L1133.7,797.3 L1133.5,796.2 L1133.7,795 L1134.7,793.5 L1135.8,792.2 L1136.2,791.2 L1136.3,790.3 L1136.2,789.4 L1135.8,788.5 L1134.8,787.5 L1133.8,786.2 L1133.7,785 L1133.9,783.9 L1134.5,782.8 L1135.4,782 L1136.9,781.7 L1138.4,781.5 L1139.2,781.1 L1139.9,780.5 L1140.4,779.7 L1140.7,778.7 L1140.7,777 L1140.9,775.2 L1141.5,774.1 L1142.4,773.4 L1143.4,773.1 L1144.5,773.1 L1145.6,774.1 L1146.6,775.2 L1147.5,775.6 L1148.2,775.6 L1149,775.4 L1149.8,774.9 L1150.9,773.5 L1152.1,772.3 L1153.2,772 L1154.2,772.1 L1155,772.6 L1155.6,773.6 L1155.7,775.3 L1155.7,777 L1156,777.9 L1156.4,778.6 L1157.1,779.1 L1157.9,779.3 L1159.4,779.1 L1160.9,779.1 L1161.8,779.8 L1162.3,780.7 L1162.5,781.8 L1162.3,783 L1161.3,784.5 L1160.2,785.8 L1159.8,786.8 L1159.7,787.7 L1159.8,788.6 L1160.2,789.5 L1161.2,790.5 L1162.2,791.8 L1162.3,793 L1162.1,794.1 Z" fill="#fff" stroke="#2a2a2a" stroke-width="1.32" />
<path d="M1165.1,795.4 L1164.5,796.4 L1163.6,797.2 L1162.1,797.6 L1160.6,797.7 L1159.8,798.2 L1159.1,798.8 L1158.6,799.6 L1158.3,800.6 L1158.3,802.3 L1158.1,804 L1157.5,805.1 L1156.6,805.8 L1155.6,806.2 L1154.5,806.1 L1153.4,805.1 L1152.4,804 L1151.5,803.7 L1150.8,803.6 L1150,803.9 L1149.2,804.4 L1148.1,805.7 L1146.9,807 L1145.8,807.3 L1144.8,807.2 L1144,806.6 L1143.4,805.7 L1143.3,804 L1143.3,802.3 L1143,801.3 L1142.6,800.6 L1141.9,800.2 L1141.1,799.9 L1139.6,800.1 L1138.1,800.1 L1137.2,799.5 L1136.7,798.6 L1136.5,797.5 L1136.7,796.2 L1137.7,794.8 L1138.8,793.5 L1139.2,792.5 L1139.3,791.6 L1139.2,790.7 L1138.8,789.8 L1137.8,788.7 L1136.8,787.5 L1136.7,786.3 L1136.9,785.1 L1137.5,784.1 L1138.4,783.3 L1139.9,782.9 L1141.4,782.8 L1142.2,782.3 L1142.9,781.7 L1143.4,780.9 L1143.7,779.9 L1143.7,778.2 L1143.9,776.5 L1144.5,775.4 L1145.4,774.7 L1146.4,774.3 L1147.5,774.4 L1148.6,775.4 L1149.6,776.5 L1150.5,776.8 L1151.2,776.9 L1152,776.6 L1152.8,776.1 L1153.9,774.8 L1155.1,773.5 L1156.2,773.2 L1157.2,773.3 L1158,773.9 L1158.6,774.8 L1158.7,776.5 L1158.7,778.2 L1159,779.2 L1159.4,779.9 L1160.1,780.3 L1160.9,780.6 L1162.4,780.4 L1163.9,780.4 L1164.8,781 L1165.3,781.9 L1165.5,783 L1165.3,784.3 L1164.3,785.7 L1163.2,787 L1162.8,788 L1162.7,788.9 L1162.8,789.8 L1163.2,790.7 L1164.2,791.8 L1165.2,793 L1165.3,794.2 L1165.1,795.4 Z" fill="#fff" stroke="#2a2a2a" stroke-width="1.10" />
<path d="M1168.1,796.6 L1167.5,797.7 L1166.6,798.5 L1165.1,798.8 L1163.6,799 L1162.8,799.4 L1162.1,800 L1161.6,800.8 L1161.3,801.8 L1161.3,803.5 L1161.1,805.3 L1160.5,806.4 L1159.6,807.1 L1158.6,807.4 L1157.5,807.4 L1156.4,806.4 L1155.4,805.3 L1154.5,804.9 L1153.8,804.9 L1153,805.1 L1152.2,805.6 L1151.1,807 L1149.9,808.2 L1148.8,808.5 L1147.8,808.4 L1147,807.9 L1146.4,806.9 L1146.3,805.2 L1146.3,803.5 L1146,802.6 L1145.6,801.9 L1144.9,801.4 L1144.1,801.2 L1142.6,801.4 L1141.1,801.4 L1140.2,800.7 L1139.7,799.8 L1139.5,798.7 L1139.7,797.5 L1140.7,796 L1141.8,794.7 L1142.2,793.7 L1142.3,792.8 L1142.2,791.9 L1141.8,791 L1140.8,790 L1139.8,788.7 L1139.7,787.5 L1139.9,786.4 L1140.5,785.3 L1141.4,784.5 L1142.9,784.2 L1144.4,784 L1145.2,783.6 L1145.9,783 L1146.4,782.2 L1146.7,781.2 L1146.7,779.5 L1146.9,777.7 L1147.5,776.6 L1148.4,775.9 L1149.4,775.6 L1150.5,775.6 L1151.6,776.6 L1152.6,777.7 L1153.5,778.1 L1154.2,778.1 L1155,777.9 L1155.8,777.4 L1156.9,776 L1158.1,774.8 L1159.2,774.5 L1160.2,774.6 L1161,775.1 L1161.6,776.1 L1161.7,777.8 L1161.7,779.5 L1162,780.4 L1162.4,781.1 L1163.1,781.6 L1163.9,781.8 L1165.4,781.6 L1166.9,781.6 L1167.8,782.3 L1168.3,783.2 L1168.5,784.3 L1168.3,785.5 L1167.3,787 L1166.2,788.3 L1165.8,789.3 L1165.7,790.2 L1165.8,791.1 L1166.2,792 L1167.2,793 L1168.2,794.3 L1168.3,795.5 L1168.1,796.6 Z" fill="#fff" stroke="#2a2a2a" stroke-width="1.43" />
<ellipse cx="1158" cy="792.3" rx="5.5" ry="7.5" transform="rotate(20 1158 792.3)" fill="none" stroke="#2a2a2a" stroke-width="1.32" />
<path d="M1159.8,763.5 L1159.8,763.2 L1159.9,763 L1160,762.6 L1160.1,762.3 L1160.2,762 L1160.4,761.7 L1160.6,761.5 L1160.8,761.2 L1161,760.9 L1161.2,760.7 L1161.4,760.5 L1161.6,760.4 L1161.9,760.2 L1162.1,760.1 L1162.3,760.1 L1162.5,760.1 L1162.7,760.1 L1162.8,760.2 L1170.6,764.8 L1170.8,764.9 L1170.9,765 L1171,765.2 L1171,765.4 L1171,765.6 L1171,765.9 L1171,766.2 L1170.9,766.5 L1170.8,766.8 L1170.7,767.1 L1170.6,767.4 L1170.4,767.7 L1170.2,768 L1170,768.2 L1169.8,768.5 L1169.6,768.7 L1169.4,768.9 L1169.2,769 L1168.9,769.2 L1168.7,769.3 L1168.5,769.3 L1168.3,769.3 L1168.1,769.3 L1168,769.2 L1160.2,764.6 L1160,764.5 L1159.9,764.4 L1159.8,764.2 L1159.8,764 L1159.8,763.8 Z" fill="#fff" stroke="#2a2a2a" stroke-width="1.32" />
<ellipse cx="1169.3" cy="767" rx="1.3" ry="2.6" transform="rotate(30.5 1169.3 767)" fill="#fff" stroke="#2a2a2a" stroke-width="1.32" />
</g>

<!-- labels -->
<g id="labels" font-size="17" fill="#2a2a2a">
<text x="438.1" y="229.7">90401</text>
<text x="372.4" y="249.7">90201</text>
<text x="671.8" y="265.0" letter-spacing="0.25">93500<tspan dx="1.4" font-size="19.5">-</tspan><tspan dx="0.6" font-size="17">05016</tspan></text>
<text x="835.0" y="255.2">32101</text>
<text x="665.2" y="307.1">96600</text>
<text x="753.8" y="305.0">31110</text>
<text x="608.8" y="337.4">92101</text>
<text x="1009.8" y="292.5">28102</text>
<text x="984.6" y="379.0">28101</text>
<text x="509.3" y="380.5">31120</text>
<text x="847.2" y="369.0">28120</text>
<text x="249.9" y="409.2">31210</text>
<text x="347.7" y="403.8">90001</text>
<text x="417.7" y="442.0">90001</text>
<text x="561.6" y="428.5">32410</text>
<text x="231.1" y="490.0">91309</text>
<text x="302.6" y="496.6">90071</text>
<text x="683.7" y="491.1" letter-spacing="0.25">96001<tspan dx="1.4" font-size="19.5">-</tspan><tspan dx="0.6" font-size="17">06012</tspan></text>
<text x="735.5" y="515.5">15711</text>
<text x="880.2" y="518.7">28110</text>
<text x="719.2" y="622.8">94510</text>
<text x="916.9" y="606.2">15100</text>
<text x="982.7" y="614.7" letter-spacing="0.25">96001<tspan dx="1.4" font-size="19.5">-</tspan><tspan dx="0.6" font-size="17">06028</tspan></text>
<text x="888.2" y="646.5" letter-spacing="0.25">93500<tspan dx="1.4" font-size="19.5">-</tspan><tspan dx="0.6" font-size="17">03010</tspan></text>
<text x="731.0" y="687.6">15141</text>
<text x="792.2" y="707.4">15133</text>
<text x="1139.6" y="745.4">94303</text>
<text x="819.2" y="782.2" letter-spacing="0.25">96001<tspan dx="1.4" font-size="19.5">-</tspan><tspan dx="0.6" font-size="17">06028</tspan></text>

</g>
<g id="leaders" fill="none" stroke="#2a2a2a" stroke-width="2">
<path d="M425.3,244H438.5"/>
<path d="M464.3,234.8V247.5"/>
<path d="M655,258H665"/>
<path d="M861,258.5V276"/>
<path d="M689.4,314V323.4"/>
<path d="M777.8,310V323.3"/>
<path d="M588.6,331.2H601.8"/>
<path d="M1035,298.5V310.4"/>
<path d="M1038.6,372H1059.6"/>
<path d="M533.4,345.2V361.5"/>
<path d="M873.4,376V390"/>
<path d="M274.6,417V430"/>
<path d="M372.7,408.6V422.9"/>
<path d="M442,446V458"/>
<path d="M588.5,433.6V449.5"/>
<path d="M256,462.5V473.5"/>
<path d="M354,491H363.9"/>
<path d="M677.2,484.9H658.5V494.5"/>
<path d="M716.8,510.4H730"/>
<path d="M934.3,512.6H953.3"/>
<path d="M775,617.4H798.4V610"/>
<path d="M941.6,611.5V628.7"/>
<path d="M1053,620.8V632.7"/>
<path d="M948.2,650.7V659.2"/>
<path d="M754.9,658V669.6"/>
<path d="M816.8,673V687.6"/>
<path d="M1164,752V758.6"/>
<path d="M933.6,775.9H946.9"/>
<path stroke-linejoin="miter" d="M248.4,430H303.4L461.8,506.5V541.7L411.2,574.7H382.6L219.8,506.5V458.1Z"/>
<path stroke-linejoin="miter" d="M565.4,440.5L617.3,463.6L521.3,688.5H410.4L387,663.9V593.4L499.4,535Z"/>
<path stroke-linejoin="miter" d="M885.9,628.7H999.9L1196,725.5V801L1164.3,840.8H1111.2L876.6,708.3V636.7Z"/>
</g>
<!-- watermark -->
<g id="wm" fill="#cdcdcd" style="mix-blend-mode:multiply">
<path fill-rule="evenodd" d="M512.5,494.5 a157,83.5 0 1,0 314,0 a157,83.5 0 1,0 -314,0 Z M524.7,495.4 a143.7,70.7 0 1,0 287.4,0 a143.7,70.7 0 1,0 -287.4,0 Z"/>
<path fill-rule="evenodd" d="M616,498.8 a103,59.2 0 1,0 206,0 a103,59.2 0 1,0 -206,0 Z M668,499.5 a69.4,46.5 0 1,0 138.8,0 a69.4,46.5 0 1,0 -138.8,0 Z"/>
<rect x="567" y="440" width="49" height="131"/>
<text x="519.5" y="661.5" font-size="63.5" transform="translate(519.5 0) scale(1.245 1) translate(-519.5 0)">KYMCO</text>
</g>
</svg>
</body></html>
